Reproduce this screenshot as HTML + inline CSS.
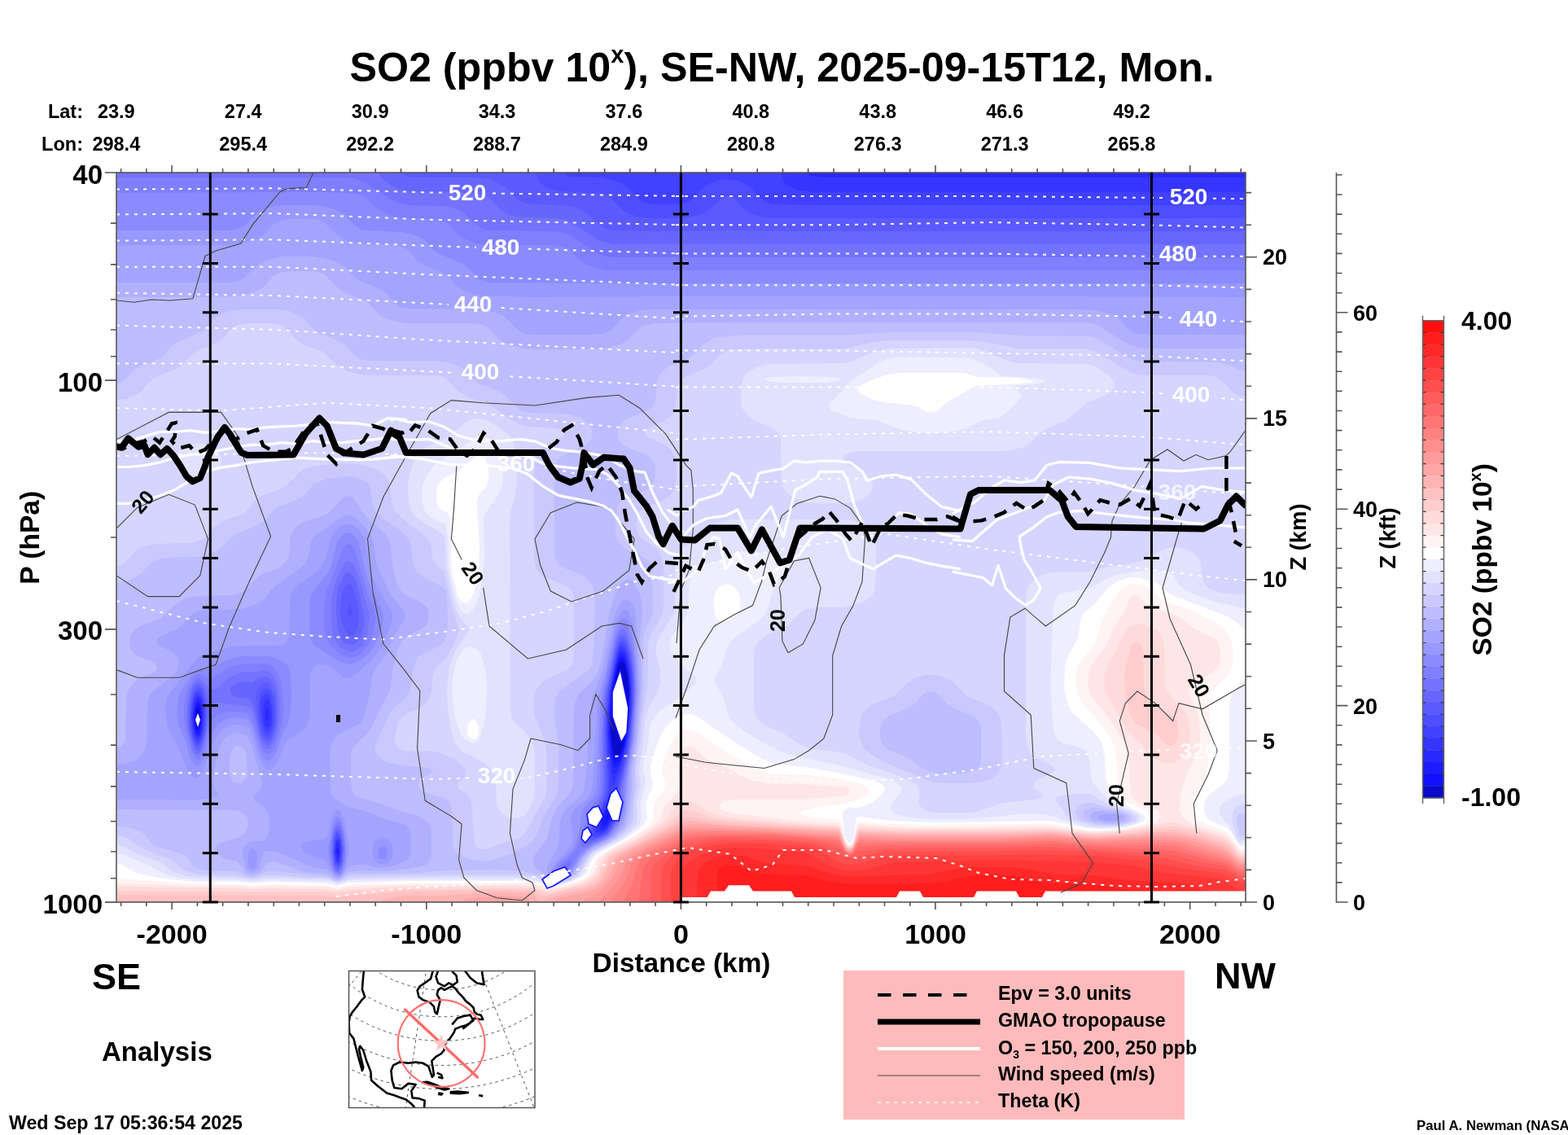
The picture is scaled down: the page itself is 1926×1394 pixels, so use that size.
<!DOCTYPE html><html><head><meta charset="utf-8"><style>html,body{margin:0;padding:0;background:#fff;overflow:hidden;width:1926px;height:1394px}svg{display:block}text{font-family:'Liberation Sans',Arial,Helvetica,sans-serif;font-weight:bold;fill:#000}</style></head><body>
<svg width="1926" height="1394" viewBox="0 0 1926 1394">
<defs><clipPath id="pc"><rect x="143" y="212" width="1387" height="896"/></clipPath></defs>
<g clip-path="url(#pc)"><rect x="143" y="212" width="1387" height="896" fill="#fff"/>
<path fill="rgb(238, 238, 255)" fill-rule="evenodd" d="M682 1089L674 1088L658 1083L636 1082L502 1082L446 1084L428 1084L414 1088L400 1085L332 1083L310 1085L292 1083L238 1083L208 1080L174 1074L163 1070L150 1062L144 1061L143 212L1530 212L1530 773L1526 771L1516 762L1508 757L1442 732L1435 728L1422 717L1416 714L1400 710L1392 709L1386 710L1373 714L1363 720L1358 726L1346 740L1331 754L1327 762L1324 784L1312 805L1308 820L1307 846L1309 854L1311 862L1314 871L1320 878L1344 899L1350 907L1354 914L1357 926L1358 956L1362 968L1368 978L1373 984L1404 1000L1407 1004L1406 1008L1398 1012L1384 1016L1370 1018L1350 1018L1334 1017L1296 1009L1286 1008L1194 1010L1138 1010L1094 1008L1054 1003L1052 1004L1051 1008L1050 1021L1048 1030L1046 1034L1042 1035L1040 1032L1037 1026L1035 1000L1036 996L1042 992L1044 991L1052 993L1064 989L1074 984L1080 978L1086 972L1087 968L1084 964L1080 962L1072 959L1048 953L996 943L958 939L946 936L936 932L900 910L858 881L850 877L842 877L834 880L822 888L816 896L810 906L799 940L799 946L802 964L801 968L796 978L794 984L793 990L795 1004L792 1012L785 1018L772 1028L739 1046L732 1050L726 1058L721 1072L716 1076L702 1083L682 1089ZM1146 506L1152 504L1163 494L1198 474L1256 471L1266 470L1269 468L1260 466L1248 464L1200 463L1196 462L1188 459L1180 458L1104 458L1090 460L1070 467L1060 472L1056 474L1054 478L1055 482L1058 484L1070 490L1086 494L1124 498L1128 500L1138 506L1146 506ZM574 740L578 736L582 727L586 712L588 696L589 668L586 624L586 614L589 606L594 601L598 597L600 586L600 576L598 568L595 562L590 560L586 561L583 562L564 578L544 588L538 595L536 604L536 614L538 622L542 626L550 630L553 636L554 646L554 690L556 708L560 722L562 731L566 738L570 741L574 740ZM894 762L900 759L906 754L909 748L909 738L908 730L905 724L900 719L892 717L885 720L880 725L877 732L877 744L878 754L881 760L886 763L894 762ZM1528 1040L1524 1040L1522 1038L1512 1023L1508 1017L1490 1010L1484 1006L1480 1000L1479 992L1480 984L1484 978L1490 972L1504 962L1508 956L1510 944L1510 870L1511 860L1513 854L1518 846L1524 838L1530 835L1530 1038L1528 1040ZM584 908L586 904L588 901L588 892L585 886L583 884L580 883L578 885L576 888L574 892L574 898L575 904L578 907L580 908L584 908Z"/>
<path fill="rgb(226, 226, 255)" fill-rule="evenodd" d="M686 1087L678 1087L660 1082L636 1080L538 1080L442 1081L428 1082L414 1086L406 1083L400 1083L332 1081L310 1083L292 1081L238 1080L218 1078L204 1074L176 1060L152 1050L144 1048L143 212L1530 212L1530 747L1522 746L1492 739L1466 730L1455 724L1450 720L1446 716L1441 706L1438 704L1432 702L1418 701L1394 702L1376 705L1360 710L1342 721L1336 723L1304 729L1300 731L1298 734L1294 744L1291 816L1290 846L1293 880L1294 896L1296 904L1299 908L1304 912L1327 918L1334 922L1336 926L1338 932L1340 954L1343 962L1358 978L1364 984L1371 988L1391 996L1398 1000L1401 1004L1400 1008L1394 1012L1382 1015L1370 1016L1352 1017L1340 1016L1327 1014L1309 1008L1292 1002L1282 1000L1250 1000L1214 1004L1186 1006L1138 1006L1118 1004L1106 1002L1097 998L1094 994L1094 992L1096 986L1106 974L1108 970L1107 966L1100 960L1086 955L1026 939L978 929L964 925L946 917L914 898L902 888L895 880L893 874L888 856L878 838L877 834L886 818L893 796L896 790L903 782L930 764L939 756L943 748L948 728L954 717L966 699L970 695L973 692L957 684L945 680L928 678L910 677L904 679L884 688L857 696L852 698L849 704L847 718L845 744L844 752L840 762L825 782L823 788L822 792L824 800L830 808L838 817L855 832L856 836L854 840L841 852L808 875L804 881L800 886L798 894L796 914L790 940L790 946L793 958L793 962L787 984L787 990L788 1004L787 1010L780 1018L769 1028L759 1034L735 1046L730 1050L724 1057L718 1070L713 1076L702 1082L686 1087ZM1147 532L1166 530L1180 528L1191 524L1208 516L1224 514L1228 513L1236 507L1255 488L1255 486L1254 484L1246 474L1270 472L1280 470L1284 468L1281 466L1274 465L1236 462L1231 462L1207 446L1198 442L1190 440L1174 439L1098 439L1090 441L1081 444L1057 460L1038 474L1034 481L1019 496L1018 498L1019 502L1022 504L1041 512L1052 514L1078 516L1095 524L1110 528L1130 531L1147 532ZM1015 470L1028 468L1035 466L1034 466L1030 464L1020 463L986 462L950 463L942 464L939 466L948 469L962 470L994 470L1015 470ZM576 754L580 750L585 742L589 730L592 714L595 686L594 638L595 632L612 608L616 598L618 590L617 568L616 562L614 555L609 548L604 542L598 538L592 536L586 537L580 541L544 564L535 570L528 578L523 586L520 594L518 602L519 618L522 628L530 636L538 640L546 643L548 646L550 658L551 696L558 728L562 741L566 749L570 753L576 754ZM582 912L586 911L588 908L594 892L597 868L598 842L596 822L592 808L590 802L586 798L582 795L578 794L572 796L568 799L564 805L560 814L556 833L556 856L558 878L564 896L566 902L570 907L578 912L582 912ZM1526 1037L1523 1036L1520 1033L1510 1014L1499 1002L1498 1000L1497 996L1499 990L1504 985L1520 976L1528 975L1530 975L1530 1034L1526 1037Z"/>
<path fill="rgb(213, 213, 255)" fill-rule="evenodd" d="M684 1086L676 1085L666 1081L660 1079L634 1077L546 1077L440 1079L428 1080L418 1084L414 1084L406 1081L400 1080L332 1078L324 1079L310 1081L292 1078L240 1077L228 1076L217 1072L211 1070L198 1059L171 1050L150 1039L144 1037L143 212L1530 212L1530 731L1498 728L1490 725L1484 722L1480 718L1478 714L1475 694L1474 689L1471 684L1466 680L1460 676L1452 673L1446 672L1438 672L1430 675L1422 678L1408 687L1396 691L1364 696L1338 702L1292 703L1280 706L1272 711L1266 716L1263 720L1261 726L1260 734L1260 904L1262 916L1267 926L1275 932L1292 940L1296 944L1296 946L1294 948L1276 957L1270 962L1270 966L1271 968L1281 976L1282 978L1278 980L1273 982L1232 986L1203 996L1194 998L1176 998L1144 998L1136 995L1130 990L1128 986L1130 974L1129 970L1126 964L1119 960L1102 952L1067 940L1038 926L1026 923L997 920L986 916L979 912L962 901L938 890L930 883L927 876L926 864L926 804L927 796L930 790L934 786L940 781L966 769L981 754L990 748L1002 746L1034 746L1046 744L1060 740L1068 734L1072 730L1074 724L1076 710L1076 668L1074 660L1071 652L1064 647L1056 642L1046 639L1036 638L902 638L890 640L878 643L869 648L854 664L838 674L834 680L831 688L829 700L829 742L828 752L823 762L810 782L806 792L806 802L811 826L811 840L808 850L796 870L792 885L790 912L785 942L785 948L787 964L782 984L783 1004L782 1010L776 1018L765 1028L754 1034L734 1044L728 1048L722 1056L714 1070L710 1076L698 1082L684 1086ZM1041 618L1054 615L1064 610L1070 604L1072 596L1070 590L1065 584L1058 579L1043 572L1037 568L1035 566L1036 562L1037 560L1042 557L1048 555L1058 554L1230 554L1242 553L1250 551L1258 549L1266 544L1280 530L1286 526L1308 517L1314 513L1336 494L1358 485L1364 482L1369 476L1369 472L1368 468L1363 462L1354 456L1346 450L1338 448L1328 447L1250 446L1240 444L1221 436L1210 431L1198 428L1184 427L1094 428L1073 432L1046 444L1038 446L946 447L932 450L920 456L914 462L911 472L910 488L911 500L915 506L921 512L928 517L948 525L954 529L957 534L959 538L959 544L960 590L962 598L965 604L970 608L976 612L990 617L1006 618L1041 618ZM638 1004L644 1002L648 997L652 990L655 982L657 968L657 932L656 920L653 910L646 900L630 885L628 880L627 872L626 642L627 630L632 610L634 598L635 578L634 560L631 544L628 538L624 533L614 526L600 517L592 514L586 514L578 515L572 519L550 537L524 549L514 558L508 568L503 582L501 598L502 618L505 628L512 636L524 644L544 656L546 657L547 664L548 694L557 738L560 749L564 758L576 772L575 776L566 789L559 800L553 816L551 828L549 848L550 870L553 892L557 908L561 916L567 922L574 926L584 931L600 941L606 948L608 952L609 958L610 988L612 992L614 996L619 1000L626 1004L632 1005L638 1004ZM249 584L262 579L266 576L270 572L272 568L272 562L270 558L267 554L262 550L256 547L244 544L236 545L230 546L224 550L219 554L215 558L214 564L215 570L219 574L224 579L232 582L240 584L249 584ZM1374 1015L1358 1015L1344 1015L1333 1012L1321 1008L1315 1006L1310 1002L1302 990L1296 982L1296 980L1300 978L1312 976L1328 975L1338 975L1344 978L1361 988L1387 996L1393 1000L1396 1002L1396 1006L1393 1010L1385 1012L1374 1015ZM1528 1032L1526 1032L1524 1032L1520 1028L1515 1014L1513 1006L1514 1000L1516 994L1520 990L1526 988L1530 989L1530 1030L1528 1032Z"/>
<path fill="rgb(201, 201, 255)" fill-rule="evenodd" d="M688 1084L680 1084L662 1077L646 1075L632 1074L548 1074L440 1076L428 1077L418 1082L414 1083L402 1078L380 1078L342 1075L328 1075L310 1079L292 1075L244 1074L236 1072L230 1070L225 1068L216 1060L210 1056L184 1046L174 1042L158 1030L150 1027L144 1026L144 695L148 694L152 692L164 679L172 673L182 670L192 668L234 667L246 664L252 660L262 648L268 644L274 640L291 634L297 632L302 628L312 617L317 612L324 608L346 600L352 596L366 582L372 577L380 574L398 571L424 569L436 570L446 571L456 574L464 578L471 582L476 588L479 594L481 618L485 628L496 638L521 658L528 666L530 672L531 684L533 690L537 694L546 702L546 705L556 748L564 774L560 786L550 806L538 817L533 824L531 830L530 850L526 860L522 864L518 868L498 877L492 882L489 888L487 896L485 906L485 912L489 918L496 922L506 923L534 923L544 926L558 932L569 942L572 946L572 952L569 956L562 962L561 964L563 968L574 976L578 982L580 992L582 1032L583 1036L585 1040L592 1043L602 1042L618 1035L636 1030L643 1026L647 1020L669 980L671 974L671 966L671 920L668 906L657 880L656 868L656 854L660 845L666 838L674 833L694 824L699 820L703 816L705 810L705 804L705 754L705 734L704 730L702 725L694 719L674 711L665 706L661 702L658 696L656 684L656 580L657 564L660 556L666 550L672 545L688 538L692 536L694 532L692 530L690 528L680 526L650 524L638 521L625 514L600 496L576 488L569 484L562 480L551 468L546 464L542 462L528 461L448 461L438 459L427 456L416 450L402 437L397 432L391 430L374 424L367 420L348 401L342 398L334 397L302 397L296 398L290 400L284 404L274 416L268 420L260 424L244 430L237 434L224 448L218 452L210 456L194 462L188 465L183 470L174 480L168 484L156 490L144 491L143 212L1530 212L1530 487L1522 486L1516 483L1501 468L1492 462L1480 461L1410 461L1396 460L1384 455L1350 434L1338 429L1326 428L1250 428L1210 420L1188 418L1092 418L1074 420L1044 427L1034 428L936 428L900 429L892 431L886 434L873 448L866 453L844 462L836 467L834 470L832 474L830 498L828 504L826 509L818 516L796 526L793 528L792 532L793 534L796 537L816 546L821 550L825 554L828 560L830 566L831 584L829 598L826 604L823 608L814 615L795 622L790 625L784 630L782 638L782 650L785 658L790 663L806 673L810 678L812 684L815 698L815 738L815 748L813 756L799 780L796 790L795 846L789 878L786 914L781 942L781 950L783 964L779 984L778 1006L776 1012L773 1016L763 1026L750 1035L732 1044L726 1048L720 1056L712 1070L708 1074L700 1080L688 1084ZM1196 962L1160 962L1146 961L1090 938L1075 930L1062 920L1059 914L1057 910L1055 902L1056 890L1057 882L1060 876L1065 870L1070 866L1098 855L1103 850L1115 838L1126 832L1136 829L1146 829L1158 831L1168 836L1173 840L1183 850L1188 855L1195 858L1212 865L1220 870L1226 876L1229 884L1230 896L1231 932L1230 940L1228 946L1224 952L1218 956L1208 960L1196 962ZM1370 1014L1350 1013L1335 1010L1328 1008L1323 1004L1321 1000L1321 996L1324 992L1328 988L1334 986L1340 986L1380 996L1388 1000L1392 1004L1391 1006L1388 1010L1380 1012L1370 1014ZM1526 1027L1524 1026L1522 1023L1519 1010L1519 1006L1520 1002L1522 1000L1526 998L1530 1000L1530 1023L1526 1027Z"/>
<path fill="rgb(189, 189, 255)" fill-rule="evenodd" d="M688 1083L679 1082L664 1075L642 1070L632 1069L604 1068L550 1069L514 1072L472 1073L434 1073L426 1075L418 1080L416 1081L412 1081L402 1076L376 1074L336 1070L328 1070L314 1076L308 1077L290 1070L254 1069L244 1067L238 1064L232 1055L227 1050L218 1047L200 1042L192 1040L187 1036L178 1025L172 1021L158 1016L144 1015L144 715L156 714L166 709L174 704L185 692L194 687L204 685L244 684L254 682L264 678L272 673L288 657L294 654L310 648L318 644L324 640L337 626L344 622L360 616L368 612L374 608L384 596L391 592L402 588L428 585L440 587L450 592L453 596L455 600L458 620L462 629L470 636L495 654L503 664L505 670L507 692L511 702L520 709L540 719L545 722L548 727L549 738L550 760L549 776L547 786L544 790L540 793L520 803L514 807L511 812L507 822L505 842L503 850L499 856L484 869L479 876L462 912L460 920L462 926L466 930L472 934L478 937L494 940L526 943L533 946L531 948L516 958L514 962L514 966L515 968L520 972L544 980L549 982L553 986L555 996L556 1030L557 1040L558 1044L561 1048L569 1052L580 1056L592 1058L602 1057L614 1054L628 1049L646 1039L654 1033L659 1026L667 1004L673 994L683 978L686 968L686 920L681 878L681 866L682 858L684 854L688 848L718 827L724 822L727 816L728 810L729 800L731 740L729 724L727 718L724 714L720 710L714 706L694 698L688 694L683 688L681 680L681 586L681 572L684 566L688 561L695 558L716 549L722 545L726 540L728 532L726 524L720 518L712 513L704 510L694 508L654 507L642 505L635 500L618 484L612 480L590 472L584 468L570 453L562 449L554 446L536 443L456 443L442 441L435 436L424 424L418 420L410 416L394 410L387 406L374 392L367 388L356 382L342 380L294 380L282 382L272 386L264 391L253 402L248 407L219 420L212 424L203 434L198 439L192 442L170 451L163 456L152 468L148 470L144 471L143 212L1530 212L1530 456L1524 455L1508 448L1494 445L1408 444L1396 443L1384 438L1350 417L1344 414L1336 413L1248 412L1202 408L1176 408L1092 408L1034 412L908 412L890 413L878 415L870 419L863 424L853 434L848 439L841 442L822 449L814 456L810 461L807 468L805 492L801 500L794 505L776 512L767 516L761 522L759 530L759 536L760 540L766 547L775 552L793 558L800 563L804 570L805 578L804 590L800 596L794 602L774 609L765 614L761 618L758 624L756 636L756 656L758 662L760 666L768 674L788 683L794 687L797 690L800 695L801 708L802 750L800 758L792 774L790 786L790 850L783 914L779 944L779 966L775 1004L771 1014L762 1024L750 1034L728 1045L720 1053L711 1068L707 1074L698 1079L688 1083ZM1184 950L1154 950L1142 948L1134 944L1116 931L1090 920L1084 914L1081 906L1081 894L1084 886L1088 882L1092 879L1110 872L1118 868L1124 864L1134 852L1138 850L1142 849L1148 850L1152 852L1163 864L1170 869L1196 880L1202 886L1205 894L1205 924L1205 936L1203 942L1198 946L1192 948L1184 950ZM1374 1012L1358 1012L1342 1010L1338 1008L1333 1006L1331 1002L1331 1000L1332 996L1336 994L1342 992L1346 992L1374 996L1382 999L1387 1002L1387 1006L1386 1008L1382 1010L1374 1012Z"/>
<path fill="rgb(176, 176, 255)" fill-rule="evenodd" d="M738 429L658 429L642 428L630 425L620 421L612 416L600 402L595 400L590 398L578 397L500 397L482 394L474 391L466 387L452 372L446 368L424 360L418 356L398 337L392 335L386 333L356 333L344 335L335 340L324 352L318 356L308 360L296 363L244 365L144 365L143 212L1530 212L1530 428L1410 428L1398 427L1392 425L1384 422L1350 400L1344 398L1336 396L1112 396L896 396L802 397L794 399L787 402L783 406L772 417L764 422L752 426L738 429ZM416 1080L412 1079L402 1073L384 1072L371 1070L361 1066L344 1060L334 1058L328 1060L318 1072L314 1074L308 1074L304 1073L301 1070L294 1061L292 1058L274 1054L268 1050L265 1048L264 1044L264 1042L266 1038L274 1034L294 1028L300 1024L303 1020L305 1012L304 1004L300 1000L294 996L280 994L242 995L144 994L144 918L148 917L150 915L153 912L154 908L155 860L156 852L159 846L162 842L166 837L172 833L188 826L192 824L193 820L193 818L190 814L170 806L165 802L161 798L159 792L159 786L160 780L164 776L172 769L197 760L202 755L216 742L228 735L236 733L246 732L286 731L292 729L298 727L318 708L324 704L342 698L350 691L353 688L355 682L356 666L357 658L360 652L364 647L375 640L396 634L402 631L410 624L420 612L424 610L428 609L432 610L434 612L451 636L473 656L477 662L480 670L481 688L483 698L487 716L491 724L498 731L514 738L520 742L526 748L527 756L526 762L522 769L515 774L500 781L494 788L490 794L482 822L480 844L477 852L468 868L456 894L450 902L437 914L433 920L431 924L431 932L431 962L432 970L435 976L442 980L468 987L490 996L514 1002L522 1007L527 1012L530 1018L530 1046L530 1054L528 1058L524 1062L517 1064L502 1067L474 1070L450 1069L432 1070L426 1072L420 1078L416 1080ZM686 1082L682 1081L678 1080L668 1073L658 1066L655 1062L655 1056L658 1048L668 1036L672 1030L677 1008L681 998L686 990L699 976L703 970L704 958L705 870L707 860L711 852L728 836L734 826L738 814L748 756L753 736L758 725L762 717L768 712L774 711L778 715L784 724L788 738L789 752L786 784L788 832L787 854L782 912L776 946L776 970L771 1004L767 1016L758 1026L748 1033L732 1041L724 1046L718 1052L708 1068L703 1074L694 1079L686 1082ZM296 962L301 958L304 954L304 948L303 934L302 926L300 920L296 917L292 916L287 918L284 924L282 934L282 950L284 956L286 960L292 962L296 962ZM1368 1011L1356 1010L1346 1008L1341 1006L1339 1002L1341 998L1344 997L1356 996L1374 999L1379 1000L1383 1004L1382 1006L1380 1008L1368 1011Z"/>
<path fill="rgb(164, 164, 255)" fill-rule="evenodd" d="M1530 411L1412 411L1400 410L1394 409L1388 406L1372 390L1362 385L1344 381L1320 380L798 380L784 382L771 386L763 392L750 406L745 408L740 410L726 411L652 411L644 410L638 407L634 403L620 389L612 385L602 382L582 380L504 379L492 377L485 372L474 360L468 356L460 352L444 346L437 342L424 328L416 323L402 318L386 315L348 315L338 317L330 319L322 322L316 326L299 342L292 345L286 347L144 347L143 212L1530 212L1530 411ZM416 1078L412 1077L402 1068L390 1066L382 1065L350 1050L342 1047L332 1045L328 1045L324 1047L322 1053L318 1066L314 1070L312 1071L308 1071L306 1070L303 1068L301 1062L298 1050L298 1042L302 1038L308 1034L312 1033L322 1033L326 1031L330 1023L331 1010L330 1002L327 996L324 991L313 984L311 980L311 978L318 972L320 968L322 964L322 960L308 913L304 905L300 902L292 900L283 902L275 908L269 918L266 930L261 958L262 965L268 974L269 976L267 978L262 980L240 983L206 982L144 982L144 939L154 938L164 935L171 930L176 924L179 918L180 910L181 866L183 856L189 848L212 830L217 824L219 818L220 812L217 806L212 801L198 794L194 792L192 788L193 784L198 782L218 772L224 767L234 756L242 751L254 749L296 748L308 745L318 740L324 736L337 720L366 700L375 692L379 684L382 666L384 662L387 658L418 636L424 633L428 633L434 634L440 639L449 648L456 658L459 668L462 692L473 716L480 731L496 750L498 756L496 762L485 780L474 804L462 820L459 826L457 832L454 854L449 874L446 882L443 888L438 891L416 902L412 906L408 912L406 918L405 926L406 972L407 976L409 978L416 983L428 991L448 996L470 1005L492 1011L499 1014L502 1018L504 1022L505 1042L505 1048L503 1052L500 1056L496 1058L478 1065L472 1066L464 1066L448 1061L432 1063L428 1065L421 1074L416 1078ZM690 1080L682 1080L678 1077L672 1070L672 1064L686 1038L688 1010L691 1000L697 992L713 978L717 970L719 958L727 858L740 823L750 774L756 752L759 746L762 740L766 737L770 737L774 738L777 742L780 748L781 756L786 844L781 906L774 948L773 974L769 1002L765 1014L757 1024L746 1032L730 1040L724 1044L716 1052L704 1072L698 1077L690 1080ZM1372 1008L1364 1008L1356 1008L1350 1006L1349 1004L1349 1002L1352 1001L1356 1000L1370 1000L1375 1002L1377 1004L1375 1006L1372 1008Z"/>
<path fill="rgb(152, 152, 255)" fill-rule="evenodd" d="M1530 365L1318 364L804 364L654 365L592 363L580 361L568 356L562 352L549 338L542 334L526 328L518 324L512 320L502 308L496 304L486 301L446 300L430 297L422 294L416 290L399 274L394 271L388 269L356 269L344 271L335 276L324 288L316 293L306 297L294 300L278 301L144 301L143 212L1530 212L1530 365ZM242 956L240 956L238 955L231 948L220 920L210 902L206 894L204 882L203 868L205 858L208 852L228 827L240 811L246 806L270 798L286 794L300 793L340 793L346 792L350 790L353 786L355 780L356 738L357 732L359 726L366 718L390 702L396 694L400 686L405 664L408 658L413 652L419 646L424 644L430 644L436 646L442 652L447 660L449 668L453 692L458 710L466 726L479 748L482 754L482 760L481 764L471 790L467 798L462 804L456 811L436 829L430 833L426 833L422 832L408 820L400 817L392 816L388 817L385 820L383 824L381 830L381 874L378 888L376 893L371 898L356 907L352 911L348 918L340 938L334 944L332 946L328 945L326 943L322 939L318 930L310 905L306 895L300 891L290 890L282 891L276 894L270 899L265 906L260 916L250 946L246 953L242 956ZM692 1078L686 1078L680 1077L678 1072L677 1068L682 1060L698 1042L703 1036L704 1028L701 1006L703 998L708 992L722 980L726 972L728 962L733 876L735 854L744 822L751 786L756 766L762 753L764 750L768 749L772 751L774 756L778 768L782 810L784 846L779 906L772 950L769 988L768 998L763 1012L754 1024L746 1031L730 1039L722 1044L714 1052L703 1070L698 1075L692 1078ZM418 1076L414 1076L410 1074L400 1057L398 1056L388 1054L380 1050L372 1046L369 1040L371 1036L378 1034L386 1032L398 1031L400 1029L403 1026L408 1002L411 996L414 994L416 995L419 998L423 1006L429 1042L428 1052L425 1064L421 1072L418 1076ZM470 1062L466 1061L461 1058L458 1052L457 1048L458 1040L460 1034L464 1030L470 1028L474 1029L478 1033L482 1038L483 1046L482 1052L480 1056L476 1060L470 1062ZM310 1068L308 1067L306 1064L304 1054L306 1046L308 1043L310 1042L313 1044L315 1046L316 1052L315 1064L313 1066L310 1068Z"/>
<path fill="rgb(139, 139, 255)" fill-rule="evenodd" d="M1530 348L754 348L600 347L592 345L586 342L574 328L566 323L538 311L532 307L522 295L514 290L504 287L494 285L454 283L444 282L435 276L424 264L418 260L408 256L396 253L384 252L352 252L340 253L330 255L322 258L316 262L298 279L292 281L286 283L144 283L143 212L1530 212L1530 348ZM430 816L424 815L416 812L388 794L384 790L382 786L380 772L380 740L382 730L386 724L398 710L405 700L408 691L413 670L416 662L422 656L428 654L432 655L434 657L440 664L447 694L454 719L460 732L469 750L471 758L470 766L465 782L458 796L452 804L444 810L438 814L430 816ZM688 1077L684 1076L682 1074L681 1070L682 1066L686 1059L701 1046L706 1040L708 1032L712 1018L714 998L717 992L728 980L732 972L733 962L736 886L739 852L756 774L762 762L764 759L768 759L770 761L773 766L777 782L781 814L782 848L778 906L770 954L767 990L766 998L760 1014L751 1026L744 1031L728 1038L720 1044L713 1052L701 1070L695 1074L688 1077ZM244 941L242 941L238 939L234 932L228 911L220 892L217 878L218 864L220 854L224 846L238 826L244 821L258 822L280 810L296 806L330 806L340 809L350 814L355 820L357 830L358 852L357 874L355 884L348 900L339 924L334 931L332 934L328 934L326 933L322 929L318 920L310 892L306 885L302 883L298 882L286 881L280 883L274 885L268 889L264 895L258 907L250 933L246 939L244 941ZM416 1075L412 1073L408 1068L405 1058L403 1044L409 1012L412 1005L414 1003L416 1003L418 1005L421 1012L424 1028L426 1044L425 1054L423 1064L420 1072L416 1075ZM472 1055L468 1055L466 1054L464 1048L466 1042L470 1039L474 1041L476 1046L475 1052L472 1055Z"/>
<path fill="rgb(127, 127, 255)" fill-rule="evenodd" d="M1530 332L744 332L732 329L720 325L713 320L699 306L694 304L688 302L676 301L600 301L590 300L580 298L573 294L566 291L552 276L544 271L532 269L494 268L478 264L466 258L448 242L438 238L426 237L386 236L144 237L143 212L1530 212L1530 332ZM436 807L428 807L422 806L416 802L409 796L404 790L401 784L399 778L398 768L398 744L401 726L413 696L421 674L424 670L428 668L432 669L436 676L452 731L460 750L461 758L459 776L454 790L446 800L442 804L436 807ZM692 1074L688 1074L686 1073L684 1070L685 1066L690 1060L704 1048L708 1042L719 1012L722 998L732 982L736 974L737 962L738 894L741 852L756 782L762 769L764 767L766 767L770 769L772 774L777 794L780 820L781 850L777 906L767 966L766 990L764 998L759 1012L750 1024L744 1030L727 1038L716 1044L710 1050L700 1068L697 1072L692 1074ZM244 933L242 933L240 931L235 922L228 896L226 880L226 866L228 854L232 842L238 832L242 829L244 828L248 829L256 833L260 833L282 820L294 816L326 815L330 816L336 819L341 826L345 836L347 852L348 872L347 884L344 898L338 916L334 924L330 926L328 926L322 921L318 910L310 885L308 881L306 877L302 875L298 874L278 874L268 877L262 883L258 893L250 924L246 930L244 933ZM416 1073L414 1073L412 1072L409 1066L407 1058L405 1046L406 1036L409 1020L412 1012L414 1008L418 1010L420 1016L423 1030L424 1042L424 1052L422 1062L420 1069L416 1073Z"/>
<path fill="rgb(115, 115, 255)" fill-rule="evenodd" d="M1530 316L752 316L744 315L736 312L702 290L690 285L678 284L608 283L594 282L585 276L570 262L562 257L552 254L544 253L502 252L492 250L480 245L448 224L436 219L420 218L144 218L143 212L1530 212L1530 316ZM434 800L428 800L424 798L418 795L414 790L411 786L409 780L407 762L407 738L410 722L414 710L420 698L424 691L428 689L430 690L434 693L440 706L452 748L454 758L452 774L449 786L446 792L442 795L434 800ZM718 1040L715 1040L714 1038L716 1028L724 1010L727 998L736 982L739 974L740 958L740 896L743 854L756 790L760 777L762 774L766 773L768 775L771 780L776 798L779 822L780 850L776 906L764 970L763 994L758 1010L753 1018L748 1024L740 1030L718 1040ZM244 927L242 927L240 926L236 918L232 902L229 884L230 868L231 856L235 844L240 836L242 834L246 834L250 838L258 846L262 847L266 846L282 832L292 827L298 825L312 826L324 823L328 824L332 826L338 833L341 844L343 856L344 874L343 886L341 898L337 910L332 918L330 920L328 920L324 918L322 915L318 904L312 878L310 873L306 869L302 867L287 866L266 862L263 864L260 868L251 912L248 922L244 927ZM416 1071L412 1070L410 1064L408 1056L407 1046L407 1036L409 1024L412 1016L414 1013L418 1015L420 1020L422 1032L423 1042L422 1054L421 1062L418 1068L416 1071ZM694 1071L690 1071L689 1070L688 1068L689 1066L696 1059L702 1056L702 1060L700 1064L697 1068L694 1071Z"/>
<path fill="rgb(102, 102, 255)" fill-rule="evenodd" d="M1530 300L752 300L744 298L736 295L704 275L694 270L682 268L644 267L634 266L625 264L614 257L600 242L590 238L576 237L506 236L494 234L484 230L473 222L468 218L465 212L1530 212L1530 300ZM434 792L430 792L426 791L422 789L420 785L416 776L413 758L413 738L415 722L422 708L424 704L428 703L430 704L432 705L438 715L443 736L447 756L447 768L444 780L440 788L434 792ZM720 1036L718 1034L719 1026L738 982L741 974L742 956L741 898L744 854L756 794L760 782L762 780L766 779L768 780L770 785L775 802L778 828L779 852L775 906L772 926L762 970L762 994L757 1008L752 1018L747 1024L739 1030L720 1036ZM330 915L328 915L326 914L321 906L318 896L312 870L308 860L304 858L294 857L290 856L286 854L284 852L283 848L284 844L290 839L298 837L310 838L320 832L326 831L330 833L335 838L338 846L340 856L341 870L341 882L340 892L337 902L334 910L330 915ZM244 923L242 922L240 920L236 910L232 894L231 880L232 864L235 850L238 842L240 840L244 838L248 840L252 848L255 856L256 868L255 884L252 904L248 918L246 921L244 923ZM416 1069L412 1067L410 1063L408 1046L410 1026L412 1020L414 1017L416 1018L419 1024L422 1042L420 1060L418 1066L416 1069Z"/>
<path fill="rgb(90, 90, 255)" fill-rule="evenodd" d="M1530 284L954 284L894 283L804 284L754 283L746 282L740 279L734 274L720 262L714 258L708 255L692 252L654 251L642 249L634 244L624 232L618 228L610 224L600 220L582 218L506 218L498 216L494 212L1530 212L1530 284ZM432 781L430 781L428 780L424 775L420 766L418 755L419 740L420 728L424 720L428 716L432 719L435 726L439 740L441 754L441 762L439 772L436 778L432 781ZM728 1032L722 1032L721 1030L722 1026L741 982L744 970L744 952L743 898L744 870L746 850L757 796L762 786L764 784L766 784L770 788L773 800L776 816L778 836L777 868L773 914L761 970L760 978L760 992L758 1004L752 1016L746 1024L738 1028L728 1032ZM330 910L326 909L324 907L320 898L317 882L314 858L315 850L317 844L322 840L326 838L330 840L334 847L338 857L339 870L339 884L337 896L334 906L330 910ZM242 919L240 917L239 914L236 906L233 892L233 878L234 864L236 852L240 845L244 842L248 845L251 852L253 862L254 876L253 892L250 906L246 915L244 918L242 919ZM416 1067L414 1066L411 1062L409 1046L410 1029L412 1023L414 1021L416 1022L418 1026L421 1042L420 1059L418 1064L416 1067Z"/>
<path fill="rgb(78, 78, 255)" fill-rule="evenodd" d="M1530 268L948 268L934 266L922 262L914 257L902 244L898 242L894 241L890 242L886 244L870 258L864 262L856 265L838 268L796 268L782 266L770 261L763 256L750 243L742 238L732 237L692 235L682 234L674 231L668 228L663 224L660 218L659 212L1530 212L1530 268ZM430 756L428 755L427 752L428 746L428 744L430 744L432 750L432 754L430 756ZM732 1029L726 1028L725 1026L725 1024L743 982L746 968L746 952L744 900L745 874L747 852L757 802L760 792L762 789L764 788L766 789L768 791L772 800L775 816L777 834L777 864L773 908L769 930L758 972L758 978L759 992L757 1002L752 1012L746 1022L740 1026L732 1029ZM330 905L328 905L326 905L323 900L320 890L318 876L318 862L319 854L322 848L326 845L330 846L333 850L335 858L337 870L337 880L336 890L334 900L330 905ZM244 915L240 914L237 906L235 894L234 880L235 868L237 856L240 849L242 847L244 846L247 848L250 856L252 866L252 878L252 890L250 902L246 912L244 915ZM416 1064L414 1063L412 1060L410 1046L411 1032L412 1027L414 1024L416 1025L418 1030L420 1042L419 1056L418 1061L416 1064Z"/>
<path fill="rgb(65, 65, 255)" fill-rule="evenodd" d="M1530 252L1004 252L956 251L946 250L938 247L933 242L922 231L914 225L902 221L894 220L882 221L870 226L862 232L851 244L844 249L832 251L804 251L796 250L788 247L784 243L770 230L764 225L756 222L738 218L702 217L696 216L693 212L1530 212L1530 252ZM736 1026L730 1026L729 1022L738 996L746 980L748 970L748 952L745 902L746 876L748 854L758 804L760 796L762 793L764 792L766 793L768 796L771 804L774 818L776 834L776 862L773 902L768 928L756 972L755 978L757 992L756 1000L752 1010L746 1019L742 1023L736 1026ZM242 912L240 908L237 902L236 892L235 880L236 868L238 858L240 852L244 850L246 852L249 858L251 868L251 880L250 892L248 902L246 910L242 912ZM330 900L326 899L324 894L322 886L320 876L320 866L321 858L324 853L326 851L330 853L332 858L335 874L334 890L332 896L330 900ZM416 1061L414 1060L412 1058L411 1046L412 1035L414 1028L416 1029L418 1031L419 1042L418 1054L416 1061Z"/>
<path fill="rgb(53, 53, 255)" fill-rule="evenodd" d="M1530 236L998 236L982 234L970 229L965 226L962 222L960 218L959 212L1530 212L1530 236ZM754 964L752 964L752 961L747 920L746 896L747 870L750 846L756 813L760 800L762 797L764 796L767 798L770 803L773 822L775 846L775 870L772 900L768 922L760 949L756 959L754 964ZM244 908L242 908L239 904L237 894L236 884L237 872L238 862L240 856L244 854L246 856L248 860L250 878L249 896L246 904L244 908ZM330 894L328 894L325 892L324 886L323 878L324 864L326 860L328 859L330 860L332 865L333 876L333 888L330 894ZM738 1023L733 1022L732 1020L733 1018L742 993L748 982L750 979L752 981L755 990L755 994L754 1000L752 1008L748 1015L744 1020L738 1023ZM416 1058L414 1058L413 1056L411 1046L412 1036L414 1031L416 1031L417 1034L418 1042L418 1052L416 1058Z"/>
<path fill="rgb(41, 41, 255)" fill-rule="evenodd" d="M1530 218L1012 218L998 216L994 215L993 212L1530 212L1530 218ZM756 951L754 951L752 947L749 924L747 902L748 874L750 850L756 818L760 804L762 801L764 800L766 801L769 806L772 822L774 844L774 866L772 894L768 916L762 938L756 951ZM244 905L241 904L239 898L237 882L239 864L242 858L244 857L246 859L248 864L249 880L248 897L246 903L244 905ZM328 886L326 884L326 878L326 872L328 870L330 872L330 878L330 882L328 886ZM738 1020L736 1019L736 1016L740 1002L746 990L748 987L750 986L752 989L754 994L752 1004L746 1015L742 1019L738 1020ZM416 1054L414 1054L414 1052L412 1046L413 1040L414 1035L416 1035L416 1037L417 1044L417 1050L416 1054Z"/>
<path fill="rgb(28, 28, 255)" fill-rule="evenodd" d="M756 943L754 942L752 936L750 920L748 898L749 872L751 850L756 822L760 808L762 805L764 804L766 806L768 810L772 826L774 846L773 868L771 896L768 916L762 936L758 941L756 943ZM242 902L240 899L239 894L238 880L240 866L242 862L244 861L246 863L247 868L248 882L246 896L244 901L242 902ZM742 1015L740 1015L739 1014L740 1005L744 995L748 992L750 991L751 996L751 1002L747 1010L742 1015ZM416 1048L414 1048L414 1046L414 1042L416 1042L416 1048Z"/>
<path fill="rgb(16, 16, 255)" fill-rule="evenodd" d="M758 936L756 936L754 934L751 920L750 900L750 876L752 852L756 828L760 812L762 809L764 808L766 810L768 814L771 828L773 846L773 864L771 890L768 911L764 926L758 936ZM244 898L242 897L240 894L239 882L240 869L242 867L244 865L246 870L247 882L246 892L244 898ZM744 1008L743 1006L744 1004L746 1000L748 998L748 1000L748 1004L744 1008Z"/>
<path fill="rgb(10, 10, 200)" fill-rule="evenodd" d="M758 930L756 930L754 927L752 914L750 896L751 874L753 852L756 831L760 816L762 813L764 812L768 817L771 830L772 848L772 866L770 890L767 910L762 924L758 930ZM244 893L242 893L241 890L240 882L241 872L242 870L244 870L245 874L246 882L245 888L244 893Z"/>
<path fill="rgb(255, 243, 243)" fill-rule="evenodd" d="M1530 1108L144 1108L144 1079L236 1085L292 1086L310 1087L332 1086L400 1087L414 1090L430 1086L504 1085L642 1084L660 1086L676 1090L682 1090L690 1088L709 1082L719 1078L724 1072L730 1058L736 1050L747 1044L776 1028L792 1018L799 1010L802 1004L803 992L804 986L806 982L815 972L817 966L817 960L813 950L813 944L814 938L822 918L826 910L831 902L838 898L844 896L850 897L858 900L888 921L926 944L937 948L950 951L994 952L1038 958L1052 961L1064 966L1067 970L1066 974L1061 978L1052 983L1036 987L1001 992L987 996L981 998L984 1000L996 1004L1032 1007L1034 1012L1038 1030L1040 1035L1042 1037L1046 1036L1048 1033L1052 1012L1054 1010L1056 1009L1094 1012L1136 1013L1288 1012L1300 1013L1334 1019L1348 1020L1376 1018L1398 1014L1406 1012L1411 1008L1414 1006L1414 1002L1408 996L1385 986L1379 978L1375 970L1372 960L1371 926L1369 916L1364 906L1350 886L1332 866L1327 860L1323 850L1322 838L1322 824L1325 816L1330 808L1342 795L1346 788L1348 782L1354 761L1370 732L1375 726L1380 721L1388 718L1394 717L1402 718L1408 721L1424 733L1430 738L1464 750L1494 765L1505 774L1509 780L1512 786L1514 794L1515 806L1514 816L1512 822L1506 832L1488 848L1484 856L1484 862L1487 890L1487 912L1486 926L1480 956L1477 962L1467 978L1465 986L1465 994L1466 1002L1472 1008L1482 1012L1506 1021L1512 1026L1522 1042L1526 1043L1530 1041L1530 1108Z"/>
<path fill="rgb(255, 230, 230)" fill-rule="evenodd" d="M1530 1108L144 1108L144 1085L238 1088L294 1088L310 1090L330 1088L400 1089L414 1092L428 1089L488 1087L638 1086L658 1087L674 1092L686 1091L712 1084L722 1078L729 1072L734 1056L741 1050L750 1044L780 1028L799 1016L807 1010L811 1004L816 990L830 976L834 970L835 962L833 944L835 932L839 920L842 917L846 916L848 916L852 918L864 929L870 934L892 942L912 954L924 959L944 962L990 963L1029 966L1037 966L1042 968L1045 972L1043 974L1040 977L1032 978L988 982L900 982L888 985L885 988L884 990L886 994L890 996L902 999L988 1009L1030 1011L1033 1016L1038 1032L1040 1036L1042 1039L1046 1038L1048 1035L1053 1016L1056 1012L1090 1015L1116 1016L1204 1016L1288 1014L1336 1021L1348 1021L1378 1020L1406 1014L1415 1012L1422 1008L1425 1004L1426 1000L1424 998L1420 994L1398 986L1394 982L1391 980L1389 974L1388 964L1386 928L1384 918L1380 910L1356 874L1340 855L1338 848L1336 840L1337 828L1340 818L1358 794L1368 771L1381 752L1388 735L1390 731L1394 731L1399 732L1408 742L1416 746L1440 754L1449 758L1468 773L1490 783L1495 786L1497 792L1499 798L1499 808L1498 816L1495 820L1488 827L1468 836L1463 840L1460 846L1461 854L1470 872L1473 882L1474 894L1474 910L1473 920L1470 928L1459 948L1456 956L1450 978L1449 996L1452 1002L1457 1008L1470 1014L1504 1024L1510 1029L1522 1044L1526 1046L1530 1044L1530 1108Z"/>
<path fill="rgb(255, 218, 218)" fill-rule="evenodd" d="M1440 938L1434 938L1426 936L1418 932L1411 926L1402 914L1386 899L1380 890L1360 854L1357 846L1356 832L1359 820L1368 804L1380 779L1386 771L1394 767L1402 766L1413 770L1421 774L1426 781L1429 788L1430 796L1431 838L1432 846L1437 854L1454 872L1458 878L1460 884L1461 892L1462 904L1461 912L1459 918L1456 924L1452 931L1446 935L1440 938ZM1530 1108L144 1108L144 1089L292 1091L310 1092L330 1091L400 1092L414 1094L428 1092L490 1089L638 1088L656 1089L670 1094L678 1094L712 1086L725 1080L731 1074L738 1058L745 1050L753 1044L780 1032L806 1016L816 1008L826 996L830 991L838 986L846 985L856 987L869 996L878 1000L893 1004L988 1012L1030 1014L1033 1018L1038 1034L1040 1038L1042 1040L1046 1039L1048 1036L1053 1018L1056 1015L1110 1018L1232 1018L1288 1017L1336 1022L1350 1023L1384 1020L1407 1016L1434 1010L1444 1010L1502 1027L1510 1032L1522 1047L1526 1049L1530 1047L1530 1108Z"/>
<path fill="rgb(255, 205, 205)" fill-rule="evenodd" d="M1440 916L1438 916L1434 915L1418 900L1396 889L1392 884L1388 878L1382 850L1381 828L1383 818L1388 798L1390 792L1394 789L1398 789L1400 790L1403 794L1404 798L1405 844L1407 852L1409 858L1413 864L1418 868L1440 879L1443 882L1446 886L1447 894L1447 906L1444 913L1440 916ZM1530 1108L144 1108L144 1094L310 1095L400 1095L416 1097L428 1095L492 1092L636 1091L654 1091L668 1096L676 1097L716 1087L726 1083L734 1076L742 1058L749 1050L812 1016L821 1010L836 998L840 996L846 995L852 996L872 1004L892 1007L990 1014L1030 1016L1032 1019L1038 1036L1040 1039L1042 1041L1046 1040L1048 1036L1054 1020L1056 1018L1108 1020L1234 1020L1290 1019L1336 1024L1348 1024L1382 1022L1434 1015L1446 1015L1486 1025L1502 1030L1510 1035L1522 1050L1526 1051L1530 1050L1530 1108Z"/>
<path fill="rgb(255, 193, 193)" fill-rule="evenodd" d="M1530 1108L144 1108L144 1099L400 1100L416 1102L426 1100L446 1099L492 1095L632 1093L652 1094L658 1096L666 1100L672 1100L692 1094L716 1090L728 1086L732 1082L737 1078L740 1072L746 1058L749 1054L754 1050L814 1020L838 1005L846 1003L874 1008L892 1010L1030 1018L1032 1022L1038 1037L1040 1040L1042 1042L1046 1041L1048 1039L1054 1022L1056 1020L1108 1022L1236 1022L1290 1021L1348 1026L1376 1025L1430 1019L1446 1019L1478 1027L1501 1034L1510 1039L1522 1053L1526 1054L1530 1052L1530 1108Z"/>
<path fill="rgb(255, 180, 180)" fill-rule="evenodd" d="M1530 1108L466 1108L469 1106L475 1104L493 1100L538 1100L600 1096L648 1097L655 1098L662 1105L666 1106L691 1098L720 1092L730 1088L738 1082L743 1074L751 1058L759 1050L836 1011L842 1009L848 1008L890 1013L1030 1020L1032 1022L1038 1038L1040 1042L1042 1043L1046 1042L1048 1040L1054 1023L1056 1022L1108 1024L1236 1024L1290 1022L1346 1028L1428 1022L1446 1023L1474 1029L1500 1037L1508 1042L1522 1055L1526 1056L1530 1055L1530 1108Z"/>
<path fill="rgb(255, 167, 167)" fill-rule="evenodd" d="M1530 1108L677 1108L688 1102L718 1097L732 1092L738 1087L744 1081L749 1074L756 1058L760 1054L765 1050L778 1042L836 1016L844 1013L850 1012L1030 1022L1032 1024L1038 1040L1040 1042L1042 1044L1046 1043L1048 1040L1056 1024L1112 1026L1236 1026L1290 1024L1346 1030L1426 1025L1446 1026L1467 1030L1500 1041L1508 1045L1522 1058L1526 1059L1530 1058L1530 1108ZM650 1108L568 1108L572 1104L586 1102L620 1100L638 1101L645 1102L650 1104L650 1106L650 1108Z"/>
<path fill="rgb(255, 155, 155)" fill-rule="evenodd" d="M1530 1108L715 1108L719 1104L736 1096L744 1088L754 1076L762 1058L767 1054L772 1050L787 1042L836 1019L844 1017L852 1016L942 1019L1030 1025L1038 1041L1040 1044L1042 1045L1046 1044L1048 1042L1056 1026L1098 1028L1194 1028L1240 1028L1290 1026L1348 1031L1420 1028L1444 1029L1461 1032L1502 1045L1510 1049L1522 1060L1526 1061L1530 1060L1530 1108Z"/>
<path fill="rgb(255, 142, 142)" fill-rule="evenodd" d="M1530 1108L736 1108L738 1104L750 1092L758 1082L762 1076L769 1060L776 1052L790 1044L836 1022L846 1019L856 1019L942 1021L1030 1027L1038 1042L1040 1045L1042 1046L1046 1045L1048 1042L1056 1029L1098 1031L1228 1031L1290 1028L1348 1033L1414 1031L1442 1032L1456 1035L1502 1049L1510 1053L1522 1063L1526 1064L1530 1063L1530 1108Z"/>
<path fill="rgb(255, 130, 130)" fill-rule="evenodd" d="M1530 1108L750 1108L753 1102L762 1091L768 1082L776 1060L780 1054L787 1050L834 1026L842 1023L854 1022L886 1021L948 1023L1030 1029L1038 1043L1040 1046L1042 1047L1046 1047L1048 1044L1054 1034L1056 1032L1098 1033L1232 1033L1290 1031L1344 1035L1426 1035L1442 1035L1452 1038L1502 1053L1510 1056L1522 1066L1526 1067L1530 1066L1530 1108Z"/>
<path fill="rgb(255, 117, 117)" fill-rule="evenodd" d="M1530 1108L766 1108L768 1102L777 1084L783 1062L787 1056L794 1051L836 1030L844 1026L858 1025L892 1024L954 1025L1000 1029L1030 1032L1032 1033L1038 1045L1040 1047L1042 1048L1046 1048L1048 1046L1054 1035L1236 1035L1290 1033L1344 1038L1440 1039L1504 1057L1510 1059L1522 1068L1526 1069L1530 1068L1530 1108Z"/>
<path fill="rgb(255, 104, 104)" fill-rule="evenodd" d="M1530 1108L784 1108L790 1066L794 1060L800 1054L836 1034L846 1030L861 1028L896 1026L950 1027L993 1030L1014 1033L1032 1037L1038 1046L1042 1050L1046 1049L1048 1048L1054 1040L1092 1038L1238 1038L1292 1036L1340 1040L1438 1044L1448 1046L1476 1054L1504 1060L1510 1063L1522 1071L1526 1072L1530 1071L1530 1108Z"/>
<path fill="rgb(255, 92, 92)" fill-rule="evenodd" d="M1530 1108L799 1108L800 1070L803 1062L809 1056L837 1038L848 1034L872 1030L900 1028L946 1030L1002 1034L1018 1038L1034 1043L1038 1049L1042 1051L1046 1050L1052 1046L1090 1042L1238 1041L1288 1040L1434 1049L1444 1051L1472 1058L1504 1064L1510 1067L1522 1075L1526 1076L1530 1075L1530 1108Z"/>
<path fill="rgb(255, 79, 79)" fill-rule="evenodd" d="M1530 1108L812 1108L812 1076L813 1066L817 1060L825 1052L838 1044L848 1040L858 1037L875 1034L890 1032L942 1032L994 1036L1010 1040L1034 1052L1044 1054L1052 1053L1080 1047L1097 1046L1238 1045L1298 1044L1354 1047L1422 1053L1438 1056L1468 1063L1504 1069L1510 1071L1522 1079L1526 1079L1530 1079L1530 1108Z"/>
<path fill="rgb(255, 66, 66)" fill-rule="evenodd" d="M1530 1108L824 1108L824 1076L825 1068L828 1062L834 1056L842 1050L852 1045L868 1040L884 1037L896 1036L942 1036L991 1040L1004 1044L1030 1059L1036 1061L1044 1062L1056 1061L1086 1052L1100 1051L1288 1050L1338 1051L1402 1057L1456 1067L1494 1072L1504 1074L1510 1076L1522 1084L1526 1085L1530 1084L1530 1108Z"/>
<path fill="rgb(255, 54, 54)" fill-rule="evenodd" d="M1530 1108L837 1108L837 1076L838 1068L841 1064L844 1060L850 1056L862 1050L880 1044L890 1042L900 1041L933 1042L988 1047L996 1050L1010 1059L1020 1064L1034 1068L1044 1070L1064 1068L1092 1060L1104 1059L1228 1056L1342 1059L1390 1063L1430 1072L1486 1078L1500 1080L1508 1084L1522 1094L1526 1095L1530 1094L1530 1108Z"/>
<path fill="rgb(255, 41, 41)" fill-rule="evenodd" d="M1480 1108L856 1108L856 1078L858 1068L865 1060L882 1052L896 1050L916 1052L938 1059L946 1061L990 1063L1024 1074L1046 1077L1098 1075L1140 1074L1174 1067L1192 1065L1242 1065L1262 1067L1296 1074L1346 1075L1394 1082L1440 1084L1456 1086L1468 1089L1476 1093L1479 1100L1480 1108Z"/>
<path fill="rgb(255, 29, 29)" fill-rule="evenodd" d="M1454 1108L881 1108L881 1078L882 1070L884 1066L890 1063L896 1062L902 1063L920 1069L934 1073L948 1074L988 1075L1020 1083L1046 1086L1142 1085L1162 1083L1196 1075L1236 1075L1246 1076L1270 1082L1288 1085L1340 1086L1388 1093L1440 1094L1446 1096L1450 1099L1454 1102L1454 1108Z"/>
<path d="M762.0 822.0L772.0 870.0L770.0 900.0L763.0 912.0L752.0 880.0L752.0 850.0ZM757.0 968.0L765.0 985.0L760.0 1008.0L752.0 1008.0L745.0 992.0L750.0 975.0ZM735.0 990.0L741.0 1003.0L733.0 1016.0L723.0 1012.0L721.0 1000.0L728.0 992.0ZM722.0 1016.0L727.0 1025.0L719.0 1035.0L714.0 1030.0L716.0 1020.0ZM694.0 1065.0L701.0 1075.0L680.0 1088.0L672.0 1091.0L666.0 1080.0L680.0 1070.0Z" fill="#fff" stroke="#1010ff" stroke-width="1.6"/><path d="M243 876L246 884L243 893L240 884Z" fill="#fff"/><rect x="413" y="878" width="5" height="9" fill="#000"/><path d="M836.0 1102.0L868.7 1102.0L873.0 1094.5L890.0 1094.5L895.0 1087.2L920.0 1087.2L925.0 1094.5L972.0 1094.5L976.0 1102.0L1101.0 1102.0L1105.0 1094.5L1130.0 1094.5L1134.0 1102.0L1196.0 1102.0L1200.0 1094.5L1248.0 1094.5L1252.0 1102.0L1280.0 1102.0L1284.0 1094.5L1531.0 1094.5L1531.0 1109.0L836.0 1109.0Z" fill="#fff"/>
<mask id="tm" maskUnits="userSpaceOnUse" x="0" y="0" width="1926" height="1394"><rect x="0" y="0" width="1926" height="1394" fill="#fff"/><rect x="544" y="222" width="60" height="28" fill="#000"/><rect x="585" y="289" width="60" height="28" fill="#000"/><rect x="551" y="359" width="60" height="28" fill="#000"/><rect x="560" y="442" width="60" height="28" fill="#000"/><rect x="604" y="555" width="60" height="28" fill="#000"/><rect x="580" y="938" width="60" height="28" fill="#000"/><rect x="1430" y="227" width="60" height="28" fill="#000"/><rect x="1417" y="297" width="60" height="28" fill="#000"/><rect x="1442" y="377" width="60" height="28" fill="#000"/><rect x="1433" y="470" width="60" height="28" fill="#000"/><rect x="1416" y="590" width="60" height="28" fill="#000"/><rect x="1442" y="908" width="60" height="28" fill="#000"/></mask><path mask="url(#tm)" d="M143.0 232.6L335.8 231.3L528.7 236.4L843.0 240.9M143.0 263.4L335.8 262.1L528.7 269.8L843.0 276.3M143.0 295.6L335.8 294.3L528.7 302.0L843.0 311.6M143.0 327.7L335.8 327.7L528.7 337.3L843.0 350.2M143.0 359.8L335.8 363.0L528.7 372.7L843.0 392.0M143.0 399.7L335.8 404.8L528.7 417.7L843.0 433.8M143.0 446.6L335.8 446.6L528.7 456.2L843.0 475.5M143.0 501.2L271.6 504.5L400.1 494.8L528.7 501.2L843.0 533.4M143.0 738.0L252.0 765.4L324.8 776.3L397.5 781.8L470.2 785.4L542.9 776.3L615.6 765.4L670.1 750.9L724.6 732.7L779.2 714.5L843.0 703.6M143.0 560.0L400.0 556.0L600.0 560.0L740.0 588.0L843.0 603.0M143.0 948.0L336.0 951.0L529.0 957.0L616.0 954.0L644.0 956.0L690.0 946.0L729.0 936.0L755.0 929.0L781.0 928.0L820.0 933.0L845.0 940.0L900.0 950.0L1020.0 960.0L1112.0 957.0L1200.0 945.0L1280.0 929.0L1408.0 922.0L1530.0 918.0M413.0 1101.0L476.0 1093.0L527.0 1089.0L610.0 1085.0L703.0 1069.0L755.0 1060.0L800.0 1050.0L845.0 1041.0L897.0 1049.0L923.0 1070.0L949.0 1062.0L962.0 1044.0L1013.0 1044.0L1052.0 1054.0L1086.0 1052.0L1150.0 1054.0L1176.0 1062.0L1202.0 1072.0L1241.0 1080.0L1292.0 1081.0L1318.0 1084.0L1370.0 1088.0L1421.0 1089.0L1473.0 1088.0L1499.0 1083.0L1530.0 1079.0M830.0 240.9L1022.8 240.9L1215.7 240.9L1408.5 242.9L1530.0 244.1M830.0 276.3L1022.8 276.3L1215.7 273.1L1408.5 276.3L1530.0 279.5M830.0 311.6L1022.8 311.6L1215.7 311.6L1408.5 314.8L1530.0 314.8M830.0 350.2L1022.8 350.2L1215.7 350.2L1408.5 350.2L1530.0 353.4M830.0 388.8L1022.8 385.5L1215.7 385.5L1408.5 388.8L1530.0 395.2M830.0 430.5L1022.8 430.5L1215.7 433.8L1408.5 437.0L1530.0 443.4M830.0 475.5L1022.8 475.5L1215.7 475.5L1408.5 482.0L1530.0 491.6M830.0 539.8L1022.8 533.4L1215.7 530.2L1408.5 536.6L1530.0 546.2M830.0 597.7L1022.8 588.0L1215.7 584.8L1408.5 597.7L1530.0 607.3M830.0 700.5L958.6 674.8L1087.1 655.5L1215.7 674.8L1344.2 690.9L1472.8 706.9L1530.0 713.3" fill="none" stroke="#fff" stroke-width="2" stroke-dasharray="4 7"/><path d="M143.0 369.0L164.8 371.2L186.0 368.0L208.4 369.0L236.8 366.8L252.0 314.5L265.1 308.0L295.6 299.2L310.9 275.2L343.6 236.0L352.3 231.6L376.3 230.5L385.0 212.0M143.0 539.8L207.3 506.4L271.6 506.4L290.8 533.4L310.1 597.7L332.6 658.7L303.7 719.8L281.2 771.2L265.1 816.2L220.1 832.3L168.7 832.3L143.0 822.6M143.0 649.1L168.7 623.4L207.3 607.3L239.4 620.1L255.5 661.9L245.8 706.9L220.1 732.6L181.6 732.6L143.0 706.9M843.0 571.9L817.9 533.4L785.8 501.2L760.0 485.2L721.5 488.4L657.2 498.0L592.9 494.8L554.4 491.6L528.7 507.7L502.9 552.7L470.8 610.5L451.5 661.9L457.9 726.2L470.8 790.5L496.5 822.6L515.8 848.3L512.6 919.0L522.2 983.3L554.4 1002.6M560.8 571.9L557.6 623.4L554.4 661.9L567.2 687.6M843.0 571.9L848.9 577.6L851.3 602.0L851.3 650.8L846.5 699.6L836.7 724.0L834.3 748.4L831.0 790.0M593.7 721.8L601.0 769.0L648.3 809.0L695.5 798.0L739.2 769.0L761.0 765.4L775.6 769.0L790.0 809.0M657.0 662.0L676.4 629.7L708.5 617.0L747.0 623.3L779.2 661.9L772.8 700.4L740.7 726.1L702.1 739.0L676.4 726.1L663.6 694.0L657.0 662.0M554.3 1002.5L567.0 1012.0L563.6 1056.0L569.8 1078.0L585.4 1093.5L610.3 1102.8L641.4 1106.0L657.0 1093.5L654.0 1084.0L641.4 1078.0L635.2 1062.3L626.4 1023.5L630.0 969.0L644.6 932.6L652.0 907.0M652.0 907.0L688.3 914.5L710.0 921.7L724.6 907.0L724.6 878.0L731.9 852.7L742.8 870.8L753.7 896.3M830.0 881.7L844.5 841.8L859.0 798.0L877.3 769.0L902.7 754.5L924.5 743.6L935.4 714.5L941.5 689.5L960.2 633.5L978.9 618.5L1006.9 609.2L1025.6 612.9L1044.3 624.1L1059.3 644.7L1062.6 660.0L1059.0 714.5L1048.1 743.6L1033.6 769.0L1022.7 805.4L1022.7 878.0L1011.8 907.2L993.6 921.7L975.4 932.6L939.0 943.5L902.7 940.0L866.4 936.3L830.0 929.0M968.0 801.8L960.9 787.2L959.0 732.7L957.2 721.8L975.4 689.0L993.6 685.4L1008.1 721.8L1000.9 761.8L986.3 790.9L968.0 801.8M1531.0 527.0L1511.0 555.0L1506.0 559.7L1484.0 564.7L1469.0 558.5L1454.0 566.0L1434.0 552.0L1413.0 565.0L1394.0 597.0L1375.0 620.0L1366.0 640.0L1364.4 660.0L1357.0 678.2L1338.9 714.5L1320.7 743.6L1284.4 769.0L1259.0 747.2L1240.8 758.1L1233.5 805.4L1233.5 849.0L1266.2 878.0L1269.8 943.5L1309.8 961.7L1317.1 1023.5L1342.5 1059.9L1328.0 1085.3L1302.6 1096.2M1375.3 1023.5L1371.6 987.2L1386.2 925.4L1375.3 885.4L1382.5 863.6L1397.0 849.0L1418.9 863.6L1440.7 885.4L1448.0 863.6L1477.0 870.8L1520.6 845.4L1531.0 840.0M1469.8 1023.5L1466.2 987.2L1484.3 950.8L1495.2 921.7L1477.0 878.0L1462.5 816.3L1437.0 760.0L1428.0 722.0L1437.0 691.0L1445.0 663.0L1452.0 640.0" fill="none" stroke="#444" stroke-width="1.1"/><path d="M140.0 541.7L158.7 541.7L177.4 536.1L196.1 530.5L214.8 530.5L233.5 528.6L252.1 531.4L270.8 529.5L289.5 526.7L308.2 527.7L326.9 524.9L345.6 523.9L364.3 523.0L383.0 521.1L401.7 518.3L420.4 519.3L439.1 520.2L457.8 523.0L476.4 513.6L500.0 515.5M140.0 573.5L158.7 573.5L177.4 571.6L196.1 567.9L214.8 562.2L233.5 558.5L252.1 556.6L270.8 552.9L289.5 549.2L308.2 546.4L326.9 546.4L345.6 543.6L364.3 545.4L383.0 541.7L401.7 543.6L420.4 543.6L439.1 541.7L457.8 539.8L476.4 537.9L500.0 539.8M140.0 618.3L158.7 618.3L177.4 614.6L196.1 609.0L214.8 601.5L233.5 590.3L252.1 579.1L270.8 574.4L289.5 571.6L308.2 567.9L326.9 566.0L345.6 564.1L364.3 562.2L383.0 563.2L401.7 564.1L420.4 564.1L439.1 565.0L457.8 564.1L476.4 562.2L500.0 560.4M480.0 516.8L485.6 514.0L502.4 518.7L526.7 517.8L545.4 524.3L564.1 535.5L582.8 540.2L610.8 542.1L638.9 539.3L657.6 542.1L676.3 550.5L695.0 553.3L713.6 555.1L741.7 559.8L760.4 571.0L779.1 578.5L792.1 580.4L801.5 604.7L812.7 627.1L825.8 645.8L840.0 653.3M480.0 539.3L508.0 540.2L526.7 539.3L545.4 546.7L564.1 554.2L592.1 556.1L610.8 556.1L648.2 559.8L666.9 569.2L685.6 572.9L704.3 574.8L732.3 576.6L745.4 582.2L760.4 597.2L771.6 612.1L782.8 630.8L794.0 653.3L807.1 668.2L822.1 679.4L840.0 683.2M480.0 559.8L517.4 563.6L554.8 571.0L592.1 571.0L629.5 574.8L648.2 582.2L666.9 597.2L685.6 608.4L704.3 612.1L723.0 615.9L741.7 621.5L751.0 627.1L760.4 640.2L769.7 658.9L779.1 675.7L788.4 696.3L797.8 707.5L816.4 711.2L840.0 713.1M820.0 626.0L831.2 633.5L838.7 627.9L851.8 622.2L857.4 614.8L876.1 609.2L885.4 605.4L898.5 581.1L906.0 584.9L922.8 611.0L932.1 581.1L950.8 577.4L962.1 575.5L975.1 566.2L988.2 568.0L1006.9 566.2L1025.6 566.2L1044.3 568.0L1059.3 579.3L1064.9 590.5L1081.7 584.9L1100.4 583.0L1119.1 588.6L1137.8 607.3L1156.4 622.2L1180.0 627.9M820.0 637.2L831.2 652.1L838.7 659.6L851.8 644.7L866.7 637.2L876.1 635.3L891.0 633.5L906.0 626.0L920.9 659.6L928.4 644.7L947.1 622.2L962.1 659.6L977.0 601.7L988.2 596.1L1003.2 586.7L1006.9 579.3L1035.0 579.3L1040.6 588.6L1049.9 622.2L1061.1 646.5L1072.3 652.1L1091.0 644.7L1104.1 629.7L1119.1 631.6L1137.8 644.7L1156.4 655.9L1180.0 659.6M820.0 715.7L838.7 713.8L857.4 700.7L866.7 674.6L876.1 659.6L883.6 661.5L891.0 698.9L898.5 689.5L906.0 678.3L917.2 700.7L926.5 715.7L939.6 708.2L980.7 682.1L997.6 659.6L1016.3 650.3L1035.0 661.5L1044.3 685.8L1072.3 698.9L1100.4 682.1L1119.1 685.8L1137.8 691.4L1156.4 695.1L1180.0 698.9M1170.0 631.0L1198.0 616.1L1220.5 597.4L1233.6 589.9L1254.1 592.7L1270.9 589.9L1285.9 571.2L1300.8 567.5L1338.2 568.4L1375.6 575.0L1413.0 576.8L1450.4 578.7L1487.8 575.0L1530.0 575.0M1170.0 662.8L1194.3 664.7L1224.2 638.5L1254.1 627.3L1282.1 616.1L1293.4 595.5L1312.1 586.2L1338.2 588.0L1366.3 593.6L1394.3 602.1L1422.3 606.7L1450.4 612.3L1476.5 597.4L1497.1 601.1L1530.0 604.9M1170.0 702.1L1188.7 705.8L1207.4 709.5L1218.6 718.9L1226.1 694.6L1235.4 722.6L1248.5 735.7L1259.7 743.2L1269.1 737.6L1278.4 722.6L1267.2 702.1L1257.9 687.1L1254.1 672.1L1252.2 659.1L1269.1 647.9L1285.9 634.8L1300.8 629.2L1328.9 627.3L1356.9 631.0L1394.3 634.8L1413.0 636.6L1441.0 638.5L1459.7 642.2L1487.8 644.1L1530.0 647.9" fill="none" stroke="#fff" stroke-width="3.2" stroke-linejoin="round"/><path d="M140.0 546.4L151.2 551.0L162.4 545.4L177.4 541.7L186.7 536.1L196.1 543.6L211.0 520.2L215.7 519.3L214.8 536.1L211.0 541.7L218.5 551.0L232.5 547.3L240.9 556.6L252.1 552.0L259.6 543.6L274.6 526.7L285.8 541.7L302.6 532.3L315.7 527.7L323.2 547.3L336.3 554.8L351.2 554.8L358.7 551.0L375.5 526.7L388.6 517.4L401.7 558.5L412.9 569.7L420.4 558.5L431.6 551.0L446.5 541.7L457.8 523.0L470.8 526.7L485.8 536.1L500.0 528.6M480.0 528.0L500.6 533.6L509.9 522.4L524.9 528.0L537.9 537.4L552.9 539.3L562.2 552.3L573.5 559.8L584.7 550.5L594.0 531.8L603.4 540.2L614.6 557.9L648.2 557.9L666.9 556.1L683.7 543.0L693.1 528.0L702.4 522.4L711.8 539.3L717.4 559.8L721.1 586.0L726.7 599.1L736.1 578.5L745.4 571.0L756.6 586.0L764.1 604.7L767.9 630.8L773.5 658.9L779.1 686.9L782.8 705.6L788.4 715.0L797.8 698.1L807.1 689.7L816.4 690.7L840.0 692.5M827.5 726.9L842.4 695.1L857.4 702.6L863.9 687.7L868.6 669.0L877.9 668.0L891.0 674.6L898.5 687.7L911.6 697.0L923.7 701.7L935.9 689.5L945.2 702.6L950.8 717.6L963.9 708.2L977.0 663.4L988.2 654.0L1001.3 642.8L1010.7 637.2L1018.1 627.9L1027.5 639.1L1038.7 655.9L1046.2 664.3L1059.3 640.9L1070.5 670.8L1081.7 648.4L1091.0 642.8L1102.2 631.6L1115.3 633.5L1132.1 638.1L1150.8 638.1L1163.9 634.4L1180.0 640.9M1170.0 634.8L1179.3 640.4L1192.4 640.4L1205.5 639.4L1220.5 634.8L1233.6 629.2L1248.5 617.9L1261.6 626.4L1270.9 621.7L1282.1 614.2L1287.8 593.6L1300.8 603.0L1312.1 616.1L1319.5 604.9L1328.9 617.9L1336.4 631.0L1340.1 627.3L1351.3 614.2L1364.4 617.9L1375.6 619.8L1388.7 612.3L1399.9 621.7L1405.5 610.5L1413.0 593.6L1418.6 631.0L1435.4 634.8L1446.6 638.5L1456.0 614.2L1469.1 625.4L1480.3 616.1M1506.4 560.0L1506.4 601.1L1513.9 634.8L1517.7 653.5M1515.8 664.7L1525.1 670.3" fill="none" stroke="#000" stroke-width="4.5" stroke-dasharray="16 11"/><path d="M141.0 547.8L149.2 549.8L157.5 538.4L163.8 543.6L170.0 548.8L177.3 546.7L181.4 558.2L189.7 549.8L197.0 558.2L205.3 550.9L213.6 560.2L221.9 572.7L229.2 585.2L236.5 591.4L245.8 587.2L251.0 574.8L255.2 562.3L262.4 546.7L267.6 536.3L276.0 524.9L283.2 534.3L290.5 546.7L296.7 556.1L304.0 559.0L360.6 558.5L375.5 532.3L392.3 513.6L401.7 523.0L412.9 551.0L424.1 556.6L446.5 558.5L469.0 551.0L480.2 528.6L491.2 538.0L498.7 556.1L666.9 556.1L674.4 571.0L685.6 586.0L700.6 592.5L711.8 587.9L715.5 571.0L717.4 556.1L728.6 571.0L741.7 561.7L766.0 563.6L773.5 574.8L779.0 602.8L794.0 621.5L801.5 634.6L809.0 658.9L814.6 668.2L825.8 645.8L836.7 662.5L853.6 663.4L872.3 648.4L906.0 648.4L922.8 676.4L935.9 650.3L958.3 691.4L969.5 687.7L982.6 648.4L1179.6 649.5L1192.0 607.0L1202.0 602.0L1289.3 602.0L1304.2 614.6L1311.7 634.5L1321.7 647.0L1478.7 649.5L1498.6 639.5L1508.6 619.6L1518.6 609.6L1531.0 622.0" fill="none" stroke="#000" stroke-width="8" stroke-linejoin="round"/><text x="574" y="246" font-size="28" text-anchor="middle" style="fill:#fff" opacity="1">520</text><text x="615" y="313" font-size="28" text-anchor="middle" style="fill:#fff" opacity="1">480</text><text x="581" y="383" font-size="28" text-anchor="middle" style="fill:#fff" opacity="1">440</text><text x="590" y="466" font-size="28" text-anchor="middle" style="fill:#fff" opacity="1">400</text><text x="634" y="579" font-size="28" text-anchor="middle" style="fill:#fff" opacity="1">360</text><text x="610" y="962" font-size="28" text-anchor="middle" style="fill:#fff" opacity="1">320</text><text x="1460" y="251" font-size="28" text-anchor="middle" style="fill:#fff" opacity="1">520</text><text x="1447" y="321" font-size="28" text-anchor="middle" style="fill:#fff" opacity="1">480</text><text x="1472" y="401" font-size="28" text-anchor="middle" style="fill:#fff" opacity="1">440</text><text x="1463" y="494" font-size="28" text-anchor="middle" style="fill:#fff" opacity="1">400</text><text x="1446" y="614" font-size="28" text-anchor="middle" style="fill:#fff" opacity="0.75">360</text><text x="1472" y="932" font-size="28" text-anchor="middle" style="fill:#fff" opacity="0.75">320</text><text x="0" y="9" font-size="25" text-anchor="middle" transform="translate(175,616) rotate(-50)">20</text><text x="0" y="9" font-size="25" text-anchor="middle" transform="translate(581,704) rotate(55)">20</text><text x="0" y="9" font-size="25" text-anchor="middle" transform="translate(955,762) rotate(-90)">20</text><text x="0" y="9" font-size="25" text-anchor="middle" transform="translate(1473,842) rotate(60)">20</text><text x="0" y="9" font-size="25" text-anchor="middle" transform="translate(1371,977) rotate(-90)">20</text>
</g>
<rect x="143" y="212" width="1387" height="896" fill="none" stroke="#555" stroke-width="1.6"/>
<path d="M148.6 212V207M148.6 1108V1113M179.8 212V207M179.8 1108V1113M211.1 212V203M211.1 1108V1117M242.4 212V207M242.4 1108V1113M273.6 212V207M273.6 1108V1113M304.9 212V207M304.9 1108V1113M336.2 212V207M336.2 1108V1113M367.4 212V207M367.4 1108V1113M398.7 212V207M398.7 1108V1113M430.0 212V207M430.0 1108V1113M461.2 212V207M461.2 1108V1113M492.5 212V207M492.5 1108V1113M523.8 212V203M523.8 1108V1117M555.0 212V207M555.0 1108V1113M586.3 212V207M586.3 1108V1113M617.5 212V207M617.5 1108V1113M648.8 212V207M648.8 1108V1113M680.1 212V207M680.1 1108V1113M711.3 212V207M711.3 1108V1113M742.6 212V207M742.6 1108V1113M773.9 212V207M773.9 1108V1113M805.1 212V207M805.1 1108V1113M836.4 212V203M836.4 1108V1117M867.7 212V207M867.7 1108V1113M898.9 212V207M898.9 1108V1113M930.2 212V207M930.2 1108V1113M961.5 212V207M961.5 1108V1113M992.7 212V207M992.7 1108V1113M1024.0 212V207M1024.0 1108V1113M1055.3 212V207M1055.3 1108V1113M1086.5 212V207M1086.5 1108V1113M1117.8 212V207M1117.8 1108V1113M1149.0 212V203M1149.0 1108V1117M1180.3 212V207M1180.3 1108V1113M1211.6 212V207M1211.6 1108V1113M1242.8 212V207M1242.8 1108V1113M1274.1 212V207M1274.1 1108V1113M1305.4 212V207M1305.4 1108V1113M1336.6 212V207M1336.6 1108V1113M1367.9 212V207M1367.9 1108V1113M1399.2 212V207M1399.2 1108V1113M1430.4 212V207M1430.4 1108V1113M1461.7 212V203M1461.7 1108V1117M1493.0 212V207M1493.0 1108V1113M1524.2 212V207M1524.2 1108V1113M143 212.0H129M143 274.1H136M143 324.9H136M143 367.8H136M143 405.0H136M143 437.7H136M143 467.1H129M143 660.0H136M143 772.9H129M143 853.0H136M143 915.1H136M143 965.9H136M143 1008.8H136M143 1046.0H136M143 1078.7H136M143 1108.1H129M1530 1108.0H1544M1530 1068.4H1537M1530 1028.8H1537M1530 989.2H1537M1530 949.6H1537M1530 910.0H1544M1530 870.3H1537M1530 830.7H1537M1530 791.1H1537M1530 751.5H1537M1530 711.9H1544M1530 672.3H1537M1530 632.7H1537M1530 593.1H1537M1530 553.5H1537M1530 513.9H1544M1530 474.2H1537M1530 434.6H1537M1530 395.0H1537M1530 355.4H1537M1530 315.8H1544M1530 276.2H1537M1530 236.6H1537" stroke="#555" stroke-width="1.6" fill="none"/>
<path d="M1641.5 212V1108H1655.5M1641.5 1108.0H1655.5M1641.5 1083.9H1648.5M1641.5 1059.7H1648.5M1641.5 1035.6H1648.5M1641.5 1011.4H1648.5M1641.5 987.3H1648.5M1641.5 963.2H1648.5M1641.5 939.0H1648.5M1641.5 914.9H1648.5M1641.5 890.7H1648.5M1641.5 866.6H1655.5M1641.5 842.5H1648.5M1641.5 818.3H1648.5M1641.5 794.2H1648.5M1641.5 770.0H1648.5M1641.5 745.9H1648.5M1641.5 721.8H1648.5M1641.5 697.6H1648.5M1641.5 673.5H1648.5M1641.5 649.3H1648.5M1641.5 625.2H1655.5M1641.5 601.1H1648.5M1641.5 576.9H1648.5M1641.5 552.8H1648.5M1641.5 528.6H1648.5M1641.5 504.5H1648.5M1641.5 480.4H1648.5M1641.5 456.2H1648.5M1641.5 432.1H1648.5M1641.5 407.9H1648.5M1641.5 383.8H1655.5M1641.5 359.7H1648.5M1641.5 335.5H1648.5M1641.5 311.4H1648.5M1641.5 287.2H1648.5M1641.5 263.1H1648.5M1641.5 239.0H1648.5M1641.5 214.8H1648.5" stroke="#555" stroke-width="1.6" fill="none"/>
<path d="M258.3 212V1108M248.8 1108.0H267.8M248.8 1047.7H267.8M248.8 987.3H267.8M248.8 927.0H267.8M248.8 866.6H267.8M248.8 806.2H267.8M248.8 745.9H267.8M248.8 685.5H267.8M248.8 625.2H267.8M248.8 564.9H267.8M248.8 504.5H267.8M248.8 444.1H267.8M248.8 383.8H267.8M248.8 323.4H267.8M248.8 263.1H267.8M836.4 212V1108M826.9 1108.0H845.9M826.9 1047.7H845.9M826.9 987.3H845.9M826.9 927.0H845.9M826.9 866.6H845.9M826.9 806.2H845.9M826.9 745.9H845.9M826.9 685.5H845.9M826.9 625.2H845.9M826.9 564.9H845.9M826.9 504.5H845.9M826.9 444.1H845.9M826.9 383.8H845.9M826.9 323.4H845.9M826.9 263.1H845.9M1414.5 212V1108M1405.0 1108.0H1424.0M1405.0 1047.7H1424.0M1405.0 987.3H1424.0M1405.0 927.0H1424.0M1405.0 866.6H1424.0M1405.0 806.2H1424.0M1405.0 745.9H1424.0M1405.0 685.5H1424.0M1405.0 625.2H1424.0M1405.0 564.9H1424.0M1405.0 504.5H1424.0M1405.0 444.1H1424.0M1405.0 383.8H1424.0M1405.0 323.4H1424.0M1405.0 263.1H1424.0" stroke="#000" stroke-width="3" fill="none"/>
<rect x="1747.5" y="393.80" width="26.0" height="15.06" fill="rgb(255, 16, 16)"/><rect x="1747.5" y="408.46" width="26.0" height="15.06" fill="rgb(255, 29, 29)"/><rect x="1747.5" y="423.11" width="26.0" height="15.06" fill="rgb(255, 41, 41)"/><rect x="1747.5" y="437.76" width="26.0" height="15.06" fill="rgb(255, 54, 54)"/><rect x="1747.5" y="452.42" width="26.0" height="15.06" fill="rgb(255, 66, 66)"/><rect x="1747.5" y="467.08" width="26.0" height="15.06" fill="rgb(255, 79, 79)"/><rect x="1747.5" y="481.73" width="26.0" height="15.06" fill="rgb(255, 92, 92)"/><rect x="1747.5" y="496.38" width="26.0" height="15.06" fill="rgb(255, 104, 104)"/><rect x="1747.5" y="511.04" width="26.0" height="15.06" fill="rgb(255, 117, 117)"/><rect x="1747.5" y="525.70" width="26.0" height="15.06" fill="rgb(255, 130, 130)"/><rect x="1747.5" y="540.35" width="26.0" height="15.06" fill="rgb(255, 142, 142)"/><rect x="1747.5" y="555.00" width="26.0" height="15.06" fill="rgb(255, 155, 155)"/><rect x="1747.5" y="569.66" width="26.0" height="15.06" fill="rgb(255, 167, 167)"/><rect x="1747.5" y="584.32" width="26.0" height="15.06" fill="rgb(255, 180, 180)"/><rect x="1747.5" y="598.97" width="26.0" height="15.06" fill="rgb(255, 193, 193)"/><rect x="1747.5" y="613.62" width="26.0" height="15.06" fill="rgb(255, 205, 205)"/><rect x="1747.5" y="628.28" width="26.0" height="15.06" fill="rgb(255, 218, 218)"/><rect x="1747.5" y="642.94" width="26.0" height="15.06" fill="rgb(255, 230, 230)"/><rect x="1747.5" y="657.59" width="26.0" height="15.06" fill="rgb(255, 243, 243)"/><rect x="1747.5" y="672.25" width="26.0" height="15.06" fill="rgb(255, 255, 255)"/><rect x="1747.5" y="686.90" width="26.0" height="15.06" fill="rgb(238, 238, 255)"/><rect x="1747.5" y="701.56" width="26.0" height="15.06" fill="rgb(226, 226, 255)"/><rect x="1747.5" y="716.21" width="26.0" height="15.06" fill="rgb(213, 213, 255)"/><rect x="1747.5" y="730.87" width="26.0" height="15.06" fill="rgb(201, 201, 255)"/><rect x="1747.5" y="745.52" width="26.0" height="15.06" fill="rgb(189, 189, 255)"/><rect x="1747.5" y="760.17" width="26.0" height="15.06" fill="rgb(176, 176, 255)"/><rect x="1747.5" y="774.83" width="26.0" height="15.06" fill="rgb(164, 164, 255)"/><rect x="1747.5" y="789.49" width="26.0" height="15.06" fill="rgb(152, 152, 255)"/><rect x="1747.5" y="804.14" width="26.0" height="15.06" fill="rgb(139, 139, 255)"/><rect x="1747.5" y="818.80" width="26.0" height="15.06" fill="rgb(127, 127, 255)"/><rect x="1747.5" y="833.45" width="26.0" height="15.06" fill="rgb(115, 115, 255)"/><rect x="1747.5" y="848.11" width="26.0" height="15.06" fill="rgb(102, 102, 255)"/><rect x="1747.5" y="862.76" width="26.0" height="15.06" fill="rgb(90, 90, 255)"/><rect x="1747.5" y="877.41" width="26.0" height="15.06" fill="rgb(78, 78, 255)"/><rect x="1747.5" y="892.07" width="26.0" height="15.06" fill="rgb(65, 65, 255)"/><rect x="1747.5" y="906.73" width="26.0" height="15.06" fill="rgb(53, 53, 255)"/><rect x="1747.5" y="921.38" width="26.0" height="15.06" fill="rgb(41, 41, 255)"/><rect x="1747.5" y="936.04" width="26.0" height="15.06" fill="rgb(28, 28, 255)"/><rect x="1747.5" y="950.69" width="26.0" height="15.06" fill="rgb(16, 16, 255)"/><rect x="1747.5" y="965.35" width="26.0" height="15.06" fill="rgb(10, 10, 200)"/>
<path d="M1747.5 408.5h4M1773.5 408.5h-4M1747.5 423.1h4M1773.5 423.1h-4M1747.5 437.8h4M1773.5 437.8h-4M1747.5 452.4h4M1773.5 452.4h-4M1747.5 467.1h4M1773.5 467.1h-4M1747.5 481.7h4M1773.5 481.7h-4M1747.5 496.4h4M1773.5 496.4h-4M1747.5 511.0h4M1773.5 511.0h-4M1747.5 525.7h4M1773.5 525.7h-4M1747.5 540.4h4M1773.5 540.4h-4M1747.5 555.0h4M1773.5 555.0h-4M1747.5 569.7h4M1773.5 569.7h-4M1747.5 584.3h4M1773.5 584.3h-4M1747.5 599.0h4M1773.5 599.0h-4M1747.5 613.6h4M1773.5 613.6h-4M1747.5 628.3h4M1773.5 628.3h-4M1747.5 642.9h4M1773.5 642.9h-4M1747.5 657.6h4M1773.5 657.6h-4M1747.5 672.2h4M1773.5 672.2h-4M1747.5 686.9h4M1773.5 686.9h-4M1747.5 701.6h4M1773.5 701.6h-4M1747.5 716.2h4M1773.5 716.2h-4M1747.5 730.9h4M1773.5 730.9h-4M1747.5 745.5h4M1773.5 745.5h-4M1747.5 760.2h4M1773.5 760.2h-4M1747.5 774.8h4M1773.5 774.8h-4M1747.5 789.5h4M1773.5 789.5h-4M1747.5 804.1h4M1773.5 804.1h-4M1747.5 818.8h4M1773.5 818.8h-4M1747.5 833.5h4M1773.5 833.5h-4M1747.5 848.1h4M1773.5 848.1h-4M1747.5 862.8h4M1773.5 862.8h-4M1747.5 877.4h4M1773.5 877.4h-4M1747.5 892.1h4M1773.5 892.1h-4M1747.5 906.7h4M1773.5 906.7h-4M1747.5 921.4h4M1773.5 921.4h-4M1747.5 936.0h4M1773.5 936.0h-4M1747.5 950.7h4M1773.5 950.7h-4M1747.5 965.3h4M1773.5 965.3h-4" stroke="#333" stroke-width="1.2"/>
<path d="M1747.5 387.8V987.0M1773.5 387.8V987.0M1747.5 393.8H1773.5M1747.5 980.0H1773.5" stroke="#666" stroke-width="1.5" fill="none"/>
<text x="429.5" y="100" font-size="50.2" text-anchor="start" >SO2 (ppbv 10<tspan font-size="29" dy="-23">x</tspan><tspan dy="23">), SE-NW, 2025-09-15T12, Mon.</tspan></text>
<text x="102" y="145" font-size="23.5" text-anchor="end" >Lat:</text>
<text x="102" y="185" font-size="23.5" text-anchor="end" >Lon:</text>
<text x="142.8" y="145" font-size="23.5" text-anchor="middle" >23.9</text>
<text x="142.8" y="185" font-size="23.5" text-anchor="middle" >298.4</text>
<text x="298.7" y="145" font-size="23.5" text-anchor="middle" >27.4</text>
<text x="298.7" y="185" font-size="23.5" text-anchor="middle" >295.4</text>
<text x="454.6" y="145" font-size="23.5" text-anchor="middle" >30.9</text>
<text x="454.6" y="185" font-size="23.5" text-anchor="middle" >292.2</text>
<text x="610.5" y="145" font-size="23.5" text-anchor="middle" >34.3</text>
<text x="610.5" y="185" font-size="23.5" text-anchor="middle" >288.7</text>
<text x="766.4" y="145" font-size="23.5" text-anchor="middle" >37.6</text>
<text x="766.4" y="185" font-size="23.5" text-anchor="middle" >284.9</text>
<text x="922.3" y="145" font-size="23.5" text-anchor="middle" >40.8</text>
<text x="922.3" y="185" font-size="23.5" text-anchor="middle" >280.8</text>
<text x="1078.2" y="145" font-size="23.5" text-anchor="middle" >43.8</text>
<text x="1078.2" y="185" font-size="23.5" text-anchor="middle" >276.3</text>
<text x="1234.1" y="145" font-size="23.5" text-anchor="middle" >46.6</text>
<text x="1234.1" y="185" font-size="23.5" text-anchor="middle" >271.3</text>
<text x="1390.0" y="145" font-size="23.5" text-anchor="middle" >49.2</text>
<text x="1390.0" y="185" font-size="23.5" text-anchor="middle" >265.8</text>
<text x="126" y="225.5" font-size="33" text-anchor="end" >40</text>
<text x="126" y="480.6" font-size="33" text-anchor="end" >100</text>
<text x="126" y="786.4" font-size="33" text-anchor="end" >300</text>
<text x="126" y="1121.6" font-size="33" text-anchor="end" >1000</text>
<text x="0" y="0" font-size="33.5" text-anchor="middle" transform="translate(47.5,660.3) rotate(-90)">P (hPa)</text>
<text x="211.1" y="1159" font-size="34" text-anchor="middle" >-2000</text>
<text x="523.8" y="1159" font-size="34" text-anchor="middle" >-1000</text>
<text x="836.4" y="1159" font-size="34" text-anchor="middle" >0</text>
<text x="1149.0" y="1159" font-size="34" text-anchor="middle" >1000</text>
<text x="1461.7" y="1159" font-size="34" text-anchor="middle" >2000</text>
<text x="837" y="1194" font-size="33.4" text-anchor="middle" >Distance (km)</text>
<text x="1551" y="1117.5" font-size="27" text-anchor="start" >0</text>
<text x="1551" y="919.5" font-size="27" text-anchor="start" >5</text>
<text x="1551" y="721.4" font-size="27" text-anchor="start" >10</text>
<text x="1551" y="523.4" font-size="27" text-anchor="start" >15</text>
<text x="1551" y="325.3" font-size="27" text-anchor="start" >20</text>
<text x="0" y="0" font-size="27.4" text-anchor="middle" transform="translate(1604,659.5) rotate(-90)">Z (km)</text>
<text x="1662" y="1118.0" font-size="27" text-anchor="start" >0</text>
<text x="1662" y="876.6" font-size="27" text-anchor="start" >20</text>
<text x="1662" y="635.2" font-size="27" text-anchor="start" >40</text>
<text x="1662" y="393.8" font-size="27" text-anchor="start" >60</text>
<text x="0" y="0" font-size="27" text-anchor="middle" transform="translate(1713.5,661) rotate(-90)">Z (kft)</text>
<text x="1795" y="405" font-size="32" text-anchor="start" >4.00</text>
<text x="1795" y="990" font-size="32" text-anchor="start" >-1.00</text>
<text x="0" y="0" font-size="33.5" text-anchor="middle" transform="translate(1832,687.3) rotate(-90)">SO2 (ppbv 10<tspan font-size="20" dy="-13.5">x</tspan><tspan dy="13.5">)</tspan></text>
<text x="113" y="1215" font-size="45" text-anchor="start" >SE</text>
<text x="1492" y="1214" font-size="45" text-anchor="start" >NW</text>
<text x="125" y="1303" font-size="33" text-anchor="start" >Analysis</text>
<text x="11" y="1387" font-size="23.2" text-anchor="start" >Wed Sep 17 05:36:54 2025</text>
<text x="1740" y="1388" font-size="16.8" text-anchor="start" >Paul A. Newman (NASA GSFC)</text>
<rect x="1036" y="1192" width="419" height="183" fill="#ffbbbb"/><path d="M1078 1222H1189" stroke="#000" stroke-width="4" stroke-dasharray="16.5 14.5"/><path d="M1078 1255H1204" stroke="#000" stroke-width="7"/><path d="M1078 1288H1204" stroke="#fff" stroke-width="4"/><path d="M1078 1321H1204" stroke="#444" stroke-width="1.2"/><path d="M1078 1354H1204" stroke="#fff" stroke-width="1.5" stroke-dasharray="4 6"/><text x="1226" y="1228" font-size="23.3">Epv = 3.0 units</text><text x="1226" y="1261" font-size="23.3">GMAO tropopause</text><text x="1226" y="1295" font-size="23.3">O<tspan font-size="14" dy="5">3</tspan><tspan dy="-5"> = 150, 200, 250 ppb</tspan></text><text x="1226" y="1327" font-size="23.3">Wind speed (m/s)</text><text x="1226" y="1360" font-size="23.3">Theta (K)</text>
<svg x="428" y="1192" width="229" height="169" viewBox="428 1192 229 169" overflow="hidden"><rect x="428" y="1192" width="229" height="169" fill="#fff"/><path d="M395.7 1069.6A146.4 146.4 0 0 0 688.5 1069.6M362.9 1069.6A179.2 179.2 0 0 0 721.3 1069.6M333.3 1069.6A208.8 208.8 0 0 0 750.9 1069.6M303.1 1069.6A239.0 239.0 0 0 0 781.1 1069.6M274.2 1069.6A267.9 267.9 0 0 0 810.0 1069.6M242.1 1069.6A300.0 300.0 0 0 0 842.1 1069.6M504.7 1116.5L336.2 1327.5M533.1 1128.9L492.8 1395.9M564.0 1125.5L662.5 1376.8" fill="none" stroke="#555" stroke-width="1" stroke-dasharray="3.5 4"/><path d="M446.9 1192.2L446.3 1198.1L445.6 1206.0L444.9 1215.2L448.2 1224.4L444.3 1228.3L438.4 1236.2L433.1 1242.8L429.8 1248.0L428.5 1255.9L429.2 1269.0L434.4 1275.6L436.4 1283.5L439.7 1296.6L442.3 1305.8L444.9 1315.0L446.3 1311.0L443.0 1297.9L441.0 1288.7L442.3 1284.8L446.3 1290.0L450.2 1303.1L455.4 1316.3L456.1 1326.8L463.3 1333.3L475.1 1342.5L484.3 1345.2L490.9 1347.8L498.8 1350.4L505.3 1355.7L509.3 1360.3M521.1 1360.3L521.7 1351.7L514.5 1349.1L506.6 1348.4L505.3 1339.9L510.6 1332.0L501.4 1330.7L493.5 1337.3L484.3 1336.0L481.7 1326.8L480.4 1315.0L483.0 1308.4L490.9 1304.5L501.4 1305.8L510.6 1304.5L519.8 1305.8L526.3 1309.7L529.0 1317.6L530.9 1322.8L532.9 1320.2L531.6 1311.0L530.3 1303.1L535.5 1297.9L542.1 1294.0L545.4 1290.0L545.4 1284.8L548.7 1279.5L552.6 1275.6L555.2 1271.6L557.8 1267.7L559.2 1263.8L565.7 1261.1L571.0 1259.8L576.2 1257.2L578.8 1254.6L582.8 1250.6L589.3 1252.0L593.3 1252.0L590.7 1246.7L585.4 1245.4L582.8 1242.8L581.5 1237.5L577.5 1233.6L572.3 1229.6L568.3 1224.4L563.1 1219.1L559.2 1213.9L555.2 1211.3L551.3 1213.2L546.0 1215.9L542.1 1213.2L538.1 1215.9L536.8 1221.8L540.8 1228.3L538.8 1236.2L536.8 1245.4L534.2 1242.8L532.9 1236.2L527.6 1230.9L519.8 1228.3L514.5 1224.4L512.6 1216.5L515.8 1211.3L523.7 1206.0L529.0 1202.1L531.6 1192.9M538.1 1192.2L535.5 1199.4L538.1 1207.3L546.0 1211.3L551.3 1207.3L556.5 1209.9L561.8 1206.0L560.5 1198.1L555.2 1192.9M571.0 1192.2L577.5 1200.8L585.4 1207.3L594.6 1209.3L593.3 1202.1L592.0 1192.2M555.2 1258.5L561.8 1250.6L569.7 1248.0L577.5 1246.7L581.5 1253.3L574.9 1258.5L568.3 1263.8M518.5 1329.4L525.0 1328.7L534.2 1332.0L543.4 1336.0L551.3 1337.3L546.0 1338.6L538.1 1336.0L527.6 1331.4L518.5 1329.4M552.6 1341.2L561.8 1340.6L574.9 1341.9L564.4 1343.2L552.6 1342.5M538.1 1342.5L543.4 1343.2L542.1 1344.5L538.1 1343.8M536.8 1317.6L542.1 1320.2L543.4 1324.2L538.1 1322.8M588.0 1345.2L592.0 1345.8L590.7 1347.1" fill="none" stroke="#000" stroke-width="2.6" stroke-linejoin="round"/><circle cx="542.1" cy="1281.5" r="53.4" fill="none" stroke="#ff7272" stroke-width="2.2"/><path d="M497.5 1240.1L586.5 1322.9" stroke="#ff6a6a" stroke-width="3.4" stroke-linecap="round"/><path d="M542.1 1270.5L544.7 1277.9L552.6 1278.1L546.4 1282.9L548.6 1290.4L542.1 1286.0L535.6 1290.4L537.8 1282.9L531.6 1278.1L539.5 1277.9Z" fill="#ffc4c4"/></svg><rect x="428.5" y="1192.5" width="228.5" height="168" fill="none" stroke="#555" stroke-width="1.5"/>
</svg></body></html>
